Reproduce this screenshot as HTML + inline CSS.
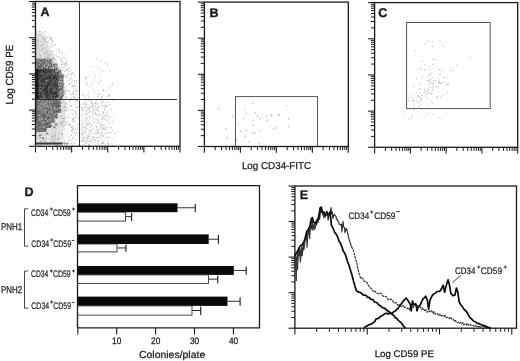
<!DOCTYPE html>
<html><head><meta charset="utf-8"><style>
html,body{margin:0;padding:0;background:#fff;width:520px;height:361px;overflow:hidden}
svg{display:block;will-change:transform;filter:blur(0.3px)}
text{font-family:"Liberation Sans",sans-serif;text-rendering:geometricPrecision}
</style></head><body>
<svg width="520" height="361" viewBox="0 0 520 361" font-family="Liberation Sans, sans-serif">
<rect width="520" height="361" fill="#fff"/>
<polygon points="36.1,31 40,32 44,35 46,40 50,48 55,58 60,70 63.5,80 65.5,95 66,105 65,120 62.5,135 61,145.5 36.1,145.5" fill="#e0e0e0"/>
<polygon points="36.1,58.5 52,58.5 52,63.5 57.5,63.5 57.5,69 61,69 61,74 63.5,74 63.5,96 62,99 36.1,99" fill="#7e7e7e"/>
<path d="M45.38 61.79h1.0v1.0h-1.0zM37.63 59.08h1.0v1.0h-1.0zM39.28 65.05h1.0v1.0h-1.0zM39.9 60.3h1.0v1.0h-1.0zM37.32 64.27h1.0v1.0h-1.0zM49.32 68.49h1.0v1.0h-1.0zM59.73 86.45h1.0v1.0h-1.0zM58.82 80.79h1.0v1.0h-1.0zM61.12 97.51h1.0v1.0h-1.0zM40.63 60.27h1.0v1.0h-1.0zM39.44 66.14h1.0v1.0h-1.0zM60.49 93.88h1.0v1.0h-1.0zM40.87 65.44h1.0v1.0h-1.0zM53.47 66.82h1.0v1.0h-1.0zM62.94 90.1h1.0v1.0h-1.0zM62.17 90.9h1.0v1.0h-1.0zM41.87 62.3h1.0v1.0h-1.0zM46.61 60.53h1.0v1.0h-1.0zM38.12 59.6h1.0v1.0h-1.0zM45.95 66.91h1.0v1.0h-1.0zM51.61 61.6h1.0v1.0h-1.0zM61.83 86.33h1.0v1.0h-1.0zM45.55 65.04h1.0v1.0h-1.0zM61.51 91.27h1.0v1.0h-1.0zM60.46 88.29h1.0v1.0h-1.0zM36.35 67.57h1.0v1.0h-1.0zM42.22 65.21h1.0v1.0h-1.0zM41.5 64.2h1.0v1.0h-1.0zM61.13 76.58h1.0v1.0h-1.0zM63.25 90.2h1.0v1.0h-1.0zM58.38 76.51h1.0v1.0h-1.0zM39.37 61.8h1.0v1.0h-1.0zM63.1 91.29h1.0v1.0h-1.0zM43.18 68.18h1.0v1.0h-1.0zM48.92 63.24h1.0v1.0h-1.0zM57.62 80.04h1.0v1.0h-1.0zM43.08 67.46h1.0v1.0h-1.0zM59.05 77.85h1.0v1.0h-1.0zM63.33 74.95h1.0v1.0h-1.0zM37.71 65.83h1.0v1.0h-1.0zM59.41 95.37h1.0v1.0h-1.0zM59.55 98.73h1.0v1.0h-1.0zM38.7 66.95h1.0v1.0h-1.0zM43.75 60.83h1.0v1.0h-1.0zM43.67 60.82h1.0v1.0h-1.0zM51.57 65.73h1.0v1.0h-1.0zM38.84 62.27h1.0v1.0h-1.0zM37.04 64.08h1.0v1.0h-1.0zM45.02 68.73h1.0v1.0h-1.0zM50.75 63.01h1.0v1.0h-1.0zM57.86 79.8h1.0v1.0h-1.0zM60.48 74.45h1.0v1.0h-1.0zM37.16 60.84h1.0v1.0h-1.0zM43.3 62.35h1.0v1.0h-1.0zM62.05 85.17h1.0v1.0h-1.0zM44.1 65.9h1.0v1.0h-1.0zM44.78 65.48h1.0v1.0h-1.0zM58.39 84.59h1.0v1.0h-1.0zM57.59 83.94h1.0v1.0h-1.0zM62.7 83.23h1.0v1.0h-1.0zM57.88 91.55h1.0v1.0h-1.0zM60.04 92.19h1.0v1.0h-1.0zM59.83 88.67h1.0v1.0h-1.0zM37.77 66.95h1.0v1.0h-1.0zM58.06 98.91h1.0v1.0h-1.0zM58.89 82.76h1.0v1.0h-1.0zM40 66.43h1.0v1.0h-1.0zM37.35 67.09h1.0v1.0h-1.0zM56.11 68.09h1.0v1.0h-1.0zM49.72 60.33h1.0v1.0h-1.0zM60.51 98.56h1.0v1.0h-1.0zM49.21 67.09h1.0v1.0h-1.0zM60.52 77.89h1.0v1.0h-1.0zM62.55 86.65h1.0v1.0h-1.0zM49.25 68.59h1.0v1.0h-1.0zM43.1 66.96h1.0v1.0h-1.0zM51.08 63.54h1.0v1.0h-1.0zM62.47 91.54h1.0v1.0h-1.0zM57.84 75.29h1.0v1.0h-1.0zM58.46 84h1.0v1.0h-1.0zM55.51 68.54h1.0v1.0h-1.0zM40.6 62.27h1.0v1.0h-1.0zM50.66 64.9h1.0v1.0h-1.0zM49.22 61.28h1.0v1.0h-1.0zM41.37 59.08h1.0v1.0h-1.0zM45.93 59.1h1.0v1.0h-1.0zM42.79 66.63h1.0v1.0h-1.0zM58.36 73.58h1.0v1.0h-1.0zM37.39 67.49h1.0v1.0h-1.0zM43.77 66.18h1.0v1.0h-1.0zM62.82 76.3h1.0v1.0h-1.0zM60.68 93.5h1.0v1.0h-1.0zM38.83 61.95h1.0v1.0h-1.0zM55.19 68.67h1.0v1.0h-1.0zM39.4 66.33h1.0v1.0h-1.0zM47.34 65.06h1.0v1.0h-1.0zM62.46 76.39h1.0v1.0h-1.0zM42.66 66.12h1.0v1.0h-1.0zM48.31 66.58h1.0v1.0h-1.0zM56.32 63.91h1.0v1.0h-1.0zM59.81 88.26h1.0v1.0h-1.0zM50.9 64.23h1.0v1.0h-1.0zM50.62 63.43h1.0v1.0h-1.0zM41.99 98.84h1.0v1.0h-1.0zM62.89 94.76h1.0v1.0h-1.0zM60.57 74.46h1.0v1.0h-1.0zM58.29 95.43h1.0v1.0h-1.0zM45.84 67.25h1.0v1.0h-1.0zM45.15 67.4h1.0v1.0h-1.0zM63.45 83.53h1.0v1.0h-1.0zM47.29 66.3h1.0v1.0h-1.0zM59.98 88.23h1.0v1.0h-1.0zM60.59 89.78h1.0v1.0h-1.0zM43.58 58.78h1.0v1.0h-1.0zM58.31 93.11h1.0v1.0h-1.0zM43.05 66.04h1.0v1.0h-1.0zM50.97 65.41h1.0v1.0h-1.0zM60.16 84.4h1.0v1.0h-1.0zM61.14 96.15h1.0v1.0h-1.0zM36.73 68.22h1.0v1.0h-1.0zM39.14 63.53h1.0v1.0h-1.0zM61.92 75.21h1.0v1.0h-1.0zM39.81 64.18h1.0v1.0h-1.0zM55.38 64.15h1.0v1.0h-1.0zM45.02 64.15h1.0v1.0h-1.0zM59.76 79.66h1.0v1.0h-1.0zM37.43 59.56h1.0v1.0h-1.0zM48 67.75h1.0v1.0h-1.0zM46.6 63.87h1.0v1.0h-1.0zM49.56 62.31h1.0v1.0h-1.0zM39.95 67.75h1.0v1.0h-1.0zM60.05 98.51h1.0v1.0h-1.0zM41.52 60.7h1.0v1.0h-1.0zM63.08 82.92h1.0v1.0h-1.0zM39.25 66.12h1.0v1.0h-1.0zM57.61 95.38h1.0v1.0h-1.0zM54.62 68.78h1.0v1.0h-1.0zM50.43 65.59h1.0v1.0h-1.0zM58.79 90.1h1.0v1.0h-1.0zM49.48 63.08h1.0v1.0h-1.0zM49.93 59.82h1.0v1.0h-1.0zM57.87 89.99h1.0v1.0h-1.0zM57.83 91.67h1.0v1.0h-1.0zM59.55 96.88h1.0v1.0h-1.0zM41.85 66.83h1.0v1.0h-1.0zM36.62 63.19h1.0v1.0h-1.0zM62.13 79.98h1.0v1.0h-1.0zM48.99 62.95h1.0v1.0h-1.0zM36.53 61.72h1.0v1.0h-1.0zM39.53 65.23h1.0v1.0h-1.0zM53.47 64.19h1.0v1.0h-1.0zM42.93 61.72h1.0v1.0h-1.0zM62.07 90.2h1.0v1.0h-1.0zM47.76 66.89h1.0v1.0h-1.0zM47.88 65.7h1.0v1.0h-1.0zM44.94 68.51h1.0v1.0h-1.0zM59.38 87.19h1.0v1.0h-1.0zM58.23 75.94h1.0v1.0h-1.0zM58.12 75.36h1.0v1.0h-1.0zM42.39 59.74h1.0v1.0h-1.0z" fill="#555" opacity="1.0"/>
<path d="M57.21 66.97h1.0v1.0h-1.0zM59.55 78.55h1.0v1.0h-1.0zM43.44 65.62h1.0v1.0h-1.0zM58.19 97.51h1.0v1.0h-1.0zM58.26 69.71h1.0v1.0h-1.0zM52.9 68.85h1.0v1.0h-1.0zM46.02 61.38h1.0v1.0h-1.0zM60.5 95.11h1.0v1.0h-1.0zM38.77 64.26h1.0v1.0h-1.0zM61.36 91.54h1.0v1.0h-1.0zM54.76 67.93h1.0v1.0h-1.0zM38.55 59.4h1.0v1.0h-1.0zM36.14 66.55h1.0v1.0h-1.0zM61.47 82.82h1.0v1.0h-1.0zM51.91 64.75h1.0v1.0h-1.0zM44.15 64.66h1.0v1.0h-1.0zM41.79 66.84h1.0v1.0h-1.0zM62.99 77.55h1.0v1.0h-1.0zM58.47 84.08h1.0v1.0h-1.0zM59.09 81.06h1.0v1.0h-1.0zM41.34 68.57h1.0v1.0h-1.0zM40.22 62.02h1.0v1.0h-1.0zM51.43 62.24h1.0v1.0h-1.0zM45.51 63.52h1.0v1.0h-1.0zM57.87 74.57h1.0v1.0h-1.0zM38.76 64.29h1.0v1.0h-1.0zM63.19 74.35h1.0v1.0h-1.0zM48.35 65.29h1.0v1.0h-1.0zM57.53 94.6h1.0v1.0h-1.0zM59.11 86.5h1.0v1.0h-1.0zM61.5 85.58h1.0v1.0h-1.0zM59.36 87.09h1.0v1.0h-1.0zM54.7 66.25h1.0v1.0h-1.0zM59.23 72.49h1.0v1.0h-1.0zM50.44 98.86h1.0v1.0h-1.0zM60.78 78.48h1.0v1.0h-1.0zM46.24 66.93h1.0v1.0h-1.0zM47.45 64.54h1.0v1.0h-1.0zM60.19 83.54h1.0v1.0h-1.0zM60.47 91.73h1.0v1.0h-1.0zM49.78 68.25h1.0v1.0h-1.0zM60.93 70.96h1.0v1.0h-1.0zM46.97 66.41h1.0v1.0h-1.0zM48.5 63.37h1.0v1.0h-1.0zM44.08 66.02h1.0v1.0h-1.0zM55.61 71.31h1.0v1.0h-1.0zM63.13 90.28h1.0v1.0h-1.0zM55.51 66.25h1.0v1.0h-1.0zM38.6 61.42h1.0v1.0h-1.0zM46.07 61.87h1.0v1.0h-1.0zM63.07 90.63h1.0v1.0h-1.0zM59.54 92.75h1.0v1.0h-1.0zM52.43 66.9h1.0v1.0h-1.0zM42.64 61.27h1.0v1.0h-1.0zM49.75 61.5h1.0v1.0h-1.0zM60.75 73.17h1.0v1.0h-1.0zM50.86 67.23h1.0v1.0h-1.0zM50.95 98.87h1.0v1.0h-1.0zM62.51 79.54h1.0v1.0h-1.0zM37.02 68.52h1.0v1.0h-1.0zM63.25 82.53h1.0v1.0h-1.0zM56.27 64.56h1.0v1.0h-1.0zM59.12 96.13h1.0v1.0h-1.0zM55.5 71.6h1.0v1.0h-1.0zM60.59 90.39h1.0v1.0h-1.0zM52.64 66.61h1.0v1.0h-1.0zM36.7 60.35h1.0v1.0h-1.0zM60.22 80.89h1.0v1.0h-1.0zM48.08 59.59h1.0v1.0h-1.0zM55.16 64.55h1.0v1.0h-1.0zM57.44 65.9h1.0v1.0h-1.0zM52.79 68.16h1.0v1.0h-1.0zM37.35 98.83h1.0v1.0h-1.0zM53.83 68.89h1.0v1.0h-1.0zM60.39 94.93h1.0v1.0h-1.0zM60.26 94.02h1.0v1.0h-1.0zM52.94 67.32h1.0v1.0h-1.0zM61.46 91.32h1.0v1.0h-1.0zM46.08 58.83h1.0v1.0h-1.0zM49.69 64.3h1.0v1.0h-1.0z" fill="#c8c8c8" opacity="1.0"/>
<polygon points="36.1,69 55,69 55,72 57.5,72 57.5,96 55,98.6 36.1,98.6" fill="#464646"/>
<polygon points="36.1,99.6 60.5,99.6 60.5,113 57.5,113 57.5,118 54.5,118 54.5,123 51,123 51,128 46,128 46,132 36.1,132" fill="#787878"/>
<path d="M70.73 77.92h0.9v0.9h-0.9zM74.89 85.75h0.9v0.9h-0.9zM62.08 63.46h0.9v0.9h-0.9zM74.04 81.28h0.9v0.9h-0.9zM60.74 52.96h0.9v0.9h-0.9zM70.17 73.67h0.9v0.9h-0.9zM77.62 116.67h0.9v0.9h-0.9zM71.94 141.4h0.9v0.9h-0.9zM62.11 70.07h0.9v0.9h-0.9zM64.01 140.51h0.9v0.9h-0.9zM65.3 69.53h0.9v0.9h-0.9zM75.67 133.98h0.9v0.9h-0.9zM70.49 109.41h0.9v0.9h-0.9zM64.28 144.16h0.9v0.9h-0.9zM69.1 138.36h0.9v0.9h-0.9zM65.62 57.65h0.9v0.9h-0.9zM46.94 35.64h0.9v0.9h-0.9zM46.11 38.04h0.9v0.9h-0.9zM74.07 131.98h0.9v0.9h-0.9zM72.98 99.17h0.9v0.9h-0.9zM72.13 80.17h0.9v0.9h-0.9zM67.26 89.73h0.9v0.9h-0.9zM56.75 56.07h0.9v0.9h-0.9zM72.53 86.35h0.9v0.9h-0.9zM39.03 31.02h0.9v0.9h-0.9zM71.62 93.45h0.9v0.9h-0.9zM68.11 71.42h0.9v0.9h-0.9zM72.96 128.93h0.9v0.9h-0.9zM76 80.05h0.9v0.9h-0.9zM51.84 40.6h0.9v0.9h-0.9zM71.84 129.05h0.9v0.9h-0.9zM43.62 32.94h0.9v0.9h-0.9zM74.19 110.35h0.9v0.9h-0.9zM47.94 35.38h0.9v0.9h-0.9zM72.26 138.14h0.9v0.9h-0.9zM72.87 86.23h0.9v0.9h-0.9zM71.29 135.01h0.9v0.9h-0.9zM71.77 126.8h0.9v0.9h-0.9zM63.65 65.92h0.9v0.9h-0.9zM77.19 99.78h0.9v0.9h-0.9zM71.51 131.43h0.9v0.9h-0.9zM72.87 96.85h0.9v0.9h-0.9zM74.27 75.44h0.9v0.9h-0.9zM72.04 85.24h0.9v0.9h-0.9zM68.38 113.65h0.9v0.9h-0.9zM69.31 79.88h0.9v0.9h-0.9zM70.43 109.28h0.9v0.9h-0.9zM69.57 93.82h0.9v0.9h-0.9zM60.95 72.66h0.9v0.9h-0.9zM70.37 129.97h0.9v0.9h-0.9zM62.53 67.82h0.9v0.9h-0.9zM70.52 127.05h0.9v0.9h-0.9zM73.03 125.61h0.9v0.9h-0.9zM76.45 117.46h0.9v0.9h-0.9zM65.99 69.08h0.9v0.9h-0.9zM65.6 86.18h0.9v0.9h-0.9zM75.31 106.93h0.9v0.9h-0.9zM72.01 144.77h0.9v0.9h-0.9zM72.98 93.86h0.9v0.9h-0.9zM61.06 71.8h0.9v0.9h-0.9zM67.34 64.58h0.9v0.9h-0.9zM61.41 63.96h0.9v0.9h-0.9zM76.92 127.69h0.9v0.9h-0.9zM62.31 140.96h0.9v0.9h-0.9zM51.45 43.51h0.9v0.9h-0.9zM65.06 63.02h0.9v0.9h-0.9zM57.96 48.64h0.9v0.9h-0.9zM75.53 94.03h0.9v0.9h-0.9zM51.88 51.03h0.9v0.9h-0.9zM60.76 59.16h0.9v0.9h-0.9zM75.95 117.65h0.9v0.9h-0.9zM74.78 128.52h0.9v0.9h-0.9zM65.03 64.28h0.9v0.9h-0.9zM68.17 109.79h0.9v0.9h-0.9zM72.86 91.84h0.9v0.9h-0.9zM72.63 117.84h0.9v0.9h-0.9zM73.51 96.53h0.9v0.9h-0.9zM66.41 69.6h0.9v0.9h-0.9zM68.77 124.42h0.9v0.9h-0.9zM76.89 107.14h0.9v0.9h-0.9zM68.37 124.58h0.9v0.9h-0.9zM63.45 77.05h0.9v0.9h-0.9zM66.77 121.52h0.9v0.9h-0.9zM59.7 51.46h0.9v0.9h-0.9zM53.82 45.38h0.9v0.9h-0.9zM49.32 37.21h0.9v0.9h-0.9zM66.96 104.46h0.9v0.9h-0.9zM69.59 124.73h0.9v0.9h-0.9zM51.54 46.01h0.9v0.9h-0.9zM51.65 41.18h0.9v0.9h-0.9zM54.82 43.92h0.9v0.9h-0.9zM76.42 101.21h0.9v0.9h-0.9zM63.43 137.84h0.9v0.9h-0.9zM46.45 37.47h0.9v0.9h-0.9zM73.13 136.76h0.9v0.9h-0.9zM72.45 113.53h0.9v0.9h-0.9zM50.04 43.25h0.9v0.9h-0.9zM71.98 108.9h0.9v0.9h-0.9zM75.78 139.06h0.9v0.9h-0.9zM55.06 44.04h0.9v0.9h-0.9zM72.92 127.77h0.9v0.9h-0.9zM70.52 73.61h0.9v0.9h-0.9zM65.14 124.09h0.9v0.9h-0.9zM60.57 63.86h0.9v0.9h-0.9zM44.2 30.72h0.9v0.9h-0.9zM74.01 142.77h0.9v0.9h-0.9zM65.6 96.75h0.9v0.9h-0.9zM64.31 57.71h0.9v0.9h-0.9zM65.7 76.37h0.9v0.9h-0.9zM60.63 69.94h0.9v0.9h-0.9zM75.1 89.06h0.9v0.9h-0.9zM59.12 51.69h0.9v0.9h-0.9zM52.94 41.58h0.9v0.9h-0.9zM66.98 73.67h0.9v0.9h-0.9zM75.04 98.27h0.9v0.9h-0.9zM74.31 90.93h0.9v0.9h-0.9zM76.33 129.72h0.9v0.9h-0.9zM65.78 124.03h0.9v0.9h-0.9zM68.31 139.45h0.9v0.9h-0.9zM72.8 93.25h0.9v0.9h-0.9zM74.46 87.84h0.9v0.9h-0.9zM66.18 121.83h0.9v0.9h-0.9zM50.74 39.02h0.9v0.9h-0.9zM65.74 69.46h0.9v0.9h-0.9zM74.35 96.97h0.9v0.9h-0.9zM74.32 117.56h0.9v0.9h-0.9zM70.89 129.97h0.9v0.9h-0.9zM77.27 105.85h0.9v0.9h-0.9zM68.41 84.12h0.9v0.9h-0.9zM63.77 64.15h0.9v0.9h-0.9zM51.04 37.09h0.9v0.9h-0.9zM60.81 58.1h0.9v0.9h-0.9zM67.84 89.46h0.9v0.9h-0.9zM76.49 93.5h0.9v0.9h-0.9zM61.33 144.42h0.9v0.9h-0.9zM53.28 45.24h0.9v0.9h-0.9zM68.16 141.36h0.9v0.9h-0.9zM71.52 130.32h0.9v0.9h-0.9zM50.68 37.22h0.9v0.9h-0.9zM74.46 100.63h0.9v0.9h-0.9zM64.38 71.07h0.9v0.9h-0.9zM65.71 62.56h0.9v0.9h-0.9zM62.1 52.38h0.9v0.9h-0.9zM76.68 91.08h0.9v0.9h-0.9zM71.72 73.33h0.9v0.9h-0.9zM62.27 61.69h0.9v0.9h-0.9zM67.16 116.18h0.9v0.9h-0.9zM69.88 143.15h0.9v0.9h-0.9zM55.67 55.06h0.9v0.9h-0.9zM69.95 65.67h0.9v0.9h-0.9zM68.33 136.1h0.9v0.9h-0.9zM63.81 63.37h0.9v0.9h-0.9zM71.12 77.97h0.9v0.9h-0.9zM77.55 99.02h0.9v0.9h-0.9zM69.28 100.98h0.9v0.9h-0.9zM68.94 123.68h0.9v0.9h-0.9zM73.95 145.35h0.9v0.9h-0.9zM67.38 131.13h0.9v0.9h-0.9zM57.96 49.19h0.9v0.9h-0.9zM74.8 112.16h0.9v0.9h-0.9zM47.65 42.33h0.9v0.9h-0.9zM66.12 102.29h0.9v0.9h-0.9zM66.22 143.78h0.9v0.9h-0.9zM74.4 110.44h0.9v0.9h-0.9zM62.55 136.71h0.9v0.9h-0.9zM52.28 50.34h0.9v0.9h-0.9zM44.33 34.64h0.9v0.9h-0.9zM73.02 118.78h0.9v0.9h-0.9zM66.39 60.87h0.9v0.9h-0.9zM73.48 84.28h0.9v0.9h-0.9zM61.86 145.34h0.9v0.9h-0.9zM68.58 67.73h0.9v0.9h-0.9zM67.19 69.58h0.9v0.9h-0.9zM65.64 60.59h0.9v0.9h-0.9zM45.34 37.9h0.9v0.9h-0.9zM72.32 132.65h0.9v0.9h-0.9zM71.24 85.69h0.9v0.9h-0.9zM66.43 76.61h0.9v0.9h-0.9zM65.77 66.23h0.9v0.9h-0.9zM58.67 49.94h0.9v0.9h-0.9zM63.81 128.22h0.9v0.9h-0.9zM70.76 97.85h0.9v0.9h-0.9zM69.14 67.8h0.9v0.9h-0.9zM75.61 115.39h0.9v0.9h-0.9zM72.86 72.28h0.9v0.9h-0.9zM65.75 89.79h0.9v0.9h-0.9zM69.73 117h0.9v0.9h-0.9zM40.03 31.12h0.9v0.9h-0.9zM69.02 91.12h0.9v0.9h-0.9zM67.14 80.83h0.9v0.9h-0.9zM73.72 90.02h0.9v0.9h-0.9zM74.07 121.05h0.9v0.9h-0.9zM59.39 67.1h0.9v0.9h-0.9zM61.48 66.08h0.9v0.9h-0.9zM76.41 90.07h0.9v0.9h-0.9zM60.64 60.77h0.9v0.9h-0.9zM71.21 94.6h0.9v0.9h-0.9zM76.55 90.69h0.9v0.9h-0.9zM71.13 82.78h0.9v0.9h-0.9zM70.4 139.81h0.9v0.9h-0.9zM61.4 60.16h0.9v0.9h-0.9zM71.07 143.49h0.9v0.9h-0.9zM67.91 74.16h0.9v0.9h-0.9zM68.89 82.57h0.9v0.9h-0.9zM62.15 141.89h0.9v0.9h-0.9zM74.37 80.51h0.9v0.9h-0.9zM42.13 31.85h0.9v0.9h-0.9zM44.55 36.02h0.9v0.9h-0.9zM58.56 56.79h0.9v0.9h-0.9zM71.57 78.19h0.9v0.9h-0.9zM50.82 37.69h0.9v0.9h-0.9zM70.18 134.42h0.9v0.9h-0.9zM68.94 100.19h0.9v0.9h-0.9zM73.13 119.11h0.9v0.9h-0.9zM51.04 40.44h0.9v0.9h-0.9zM72.37 138.08h0.9v0.9h-0.9zM75.76 113.87h0.9v0.9h-0.9zM72.54 121.07h0.9v0.9h-0.9zM61.77 74.85h0.9v0.9h-0.9zM72.22 118.84h0.9v0.9h-0.9zM55.88 49.82h0.9v0.9h-0.9zM66 109.51h0.9v0.9h-0.9zM70.82 106.04h0.9v0.9h-0.9zM77.41 124.05h0.9v0.9h-0.9zM64.54 125.37h0.9v0.9h-0.9zM72.72 119.91h0.9v0.9h-0.9zM71.65 72.75h0.9v0.9h-0.9zM50.43 46.92h0.9v0.9h-0.9zM63.06 56.81h0.9v0.9h-0.9zM66.7 75.7h0.9v0.9h-0.9zM64.91 121.7h0.9v0.9h-0.9zM73.87 84.75h0.9v0.9h-0.9zM75.27 103.95h0.9v0.9h-0.9zM63.62 67.36h0.9v0.9h-0.9zM75.87 82.76h0.9v0.9h-0.9zM65.92 90.23h0.9v0.9h-0.9zM75.15 111.84h0.9v0.9h-0.9zM49.97 37.26h0.9v0.9h-0.9zM77.91 132.32h0.9v0.9h-0.9zM64.05 55.39h0.9v0.9h-0.9zM71.32 105.24h0.9v0.9h-0.9zM67.08 107.05h0.9v0.9h-0.9zM47.85 40.4h0.9v0.9h-0.9zM49.51 39.16h0.9v0.9h-0.9zM69.19 79.25h0.9v0.9h-0.9zM59.06 56.34h0.9v0.9h-0.9zM72.29 91.38h0.9v0.9h-0.9zM69.04 105.44h0.9v0.9h-0.9zM64.19 141.88h0.9v0.9h-0.9zM69.97 69.71h0.9v0.9h-0.9zM77.35 113.55h0.9v0.9h-0.9zM65.29 133.59h0.9v0.9h-0.9zM65.22 92.81h0.9v0.9h-0.9zM70.59 125.64h0.9v0.9h-0.9zM69.06 83.07h0.9v0.9h-0.9zM75.48 133.25h0.9v0.9h-0.9zM68.56 123.44h0.9v0.9h-0.9zM64.37 130.71h0.9v0.9h-0.9zM66.82 97.16h0.9v0.9h-0.9zM45.46 31.82h0.9v0.9h-0.9z" fill="#acacac" opacity="1.0"/>
<path d="M41.67 54.66h1.0v1.0h-1.0zM60.19 121.73h1.0v1.0h-1.0zM40.42 48.28h1.0v1.0h-1.0zM63.54 111.29h1.0v1.0h-1.0zM53.43 55.61h1.0v1.0h-1.0zM44.25 53.47h1.0v1.0h-1.0zM38.29 45.91h1.0v1.0h-1.0zM37.47 42.07h1.0v1.0h-1.0zM51.31 133.27h1.0v1.0h-1.0zM40.05 33.44h1.0v1.0h-1.0zM56.47 144.81h1.0v1.0h-1.0zM56.69 123.56h1.0v1.0h-1.0zM41.21 33.72h1.0v1.0h-1.0zM44.81 51.74h1.0v1.0h-1.0zM36.44 134.52h1.0v1.0h-1.0zM44.65 50.67h1.0v1.0h-1.0zM41.12 45.19h1.0v1.0h-1.0zM63.82 109.08h1.0v1.0h-1.0zM65.44 109.93h1.0v1.0h-1.0zM41.81 134.54h1.0v1.0h-1.0zM46.12 144.34h1.0v1.0h-1.0zM63.71 113.44h1.0v1.0h-1.0zM37.2 31.82h1.0v1.0h-1.0zM46.2 137.27h1.0v1.0h-1.0zM60.24 123.49h1.0v1.0h-1.0zM61.96 120.74h1.0v1.0h-1.0zM51.86 58.14h1.0v1.0h-1.0zM38.84 34.32h1.0v1.0h-1.0zM54.67 130.65h1.0v1.0h-1.0zM43.5 138.79h1.0v1.0h-1.0zM46.74 57.87h1.0v1.0h-1.0zM36.43 49.08h1.0v1.0h-1.0zM59.46 138.18h1.0v1.0h-1.0zM53.63 135.14h1.0v1.0h-1.0zM39.49 46.76h1.0v1.0h-1.0zM48.29 134.22h1.0v1.0h-1.0zM36.11 52.78h1.0v1.0h-1.0zM46.56 52.4h1.0v1.0h-1.0zM44.81 52.7h1.0v1.0h-1.0zM61.81 102.67h1.0v1.0h-1.0zM62.1 107.56h1.0v1.0h-1.0zM64.84 93.96h1.0v1.0h-1.0zM64.52 91.77h1.0v1.0h-1.0zM41.29 141.35h1.0v1.0h-1.0zM44.13 47.6h1.0v1.0h-1.0zM39.67 34.84h1.0v1.0h-1.0zM38.68 48.02h1.0v1.0h-1.0zM46.17 41.5h1.0v1.0h-1.0zM39.2 53.43h1.0v1.0h-1.0zM55.66 60.05h1.0v1.0h-1.0zM62.42 102.04h1.0v1.0h-1.0zM61.46 138.37h1.0v1.0h-1.0zM58.27 139.49h1.0v1.0h-1.0zM57.4 144.97h1.0v1.0h-1.0zM45.57 141.11h1.0v1.0h-1.0zM60.5 109.68h1.0v1.0h-1.0zM41.63 50.3h1.0v1.0h-1.0zM40.86 140.99h1.0v1.0h-1.0zM42.14 37.27h1.0v1.0h-1.0zM45.93 41.11h1.0v1.0h-1.0zM53.7 131.94h1.0v1.0h-1.0zM37.8 135.26h1.0v1.0h-1.0zM48.39 56.41h1.0v1.0h-1.0zM40.69 50.71h1.0v1.0h-1.0zM64.79 93.87h1.0v1.0h-1.0zM38.88 133.09h1.0v1.0h-1.0zM65.67 109.35h1.0v1.0h-1.0zM53.71 141.16h1.0v1.0h-1.0zM65.02 116.63h1.0v1.0h-1.0zM41.18 48.04h1.0v1.0h-1.0zM45.06 53.52h1.0v1.0h-1.0zM37.09 37.14h1.0v1.0h-1.0zM51.95 141.27h1.0v1.0h-1.0zM64.07 99.96h1.0v1.0h-1.0zM48.89 52.23h1.0v1.0h-1.0zM40.58 137.76h1.0v1.0h-1.0zM63.27 107.78h1.0v1.0h-1.0zM37.78 39.39h1.0v1.0h-1.0zM41.65 44.28h1.0v1.0h-1.0zM45.33 56.64h1.0v1.0h-1.0zM63.97 107.09h1.0v1.0h-1.0zM42.5 48.52h1.0v1.0h-1.0zM39.68 141.4h1.0v1.0h-1.0zM37.78 56.29h1.0v1.0h-1.0zM54.45 62.59h1.0v1.0h-1.0zM40.99 50.6h1.0v1.0h-1.0zM56.54 140.51h1.0v1.0h-1.0zM44.12 140.74h1.0v1.0h-1.0zM50.58 51.24h1.0v1.0h-1.0zM54.12 123.53h1.0v1.0h-1.0zM62.49 133.32h1.0v1.0h-1.0zM45.61 134.6h1.0v1.0h-1.0zM46.37 135.87h1.0v1.0h-1.0zM65.62 102.21h1.0v1.0h-1.0zM49.36 130.12h1.0v1.0h-1.0zM61.64 124.48h1.0v1.0h-1.0zM54.03 130.94h1.0v1.0h-1.0zM41.06 135.21h1.0v1.0h-1.0zM58.8 123.37h1.0v1.0h-1.0zM44.48 58.02h1.0v1.0h-1.0zM41.87 140.54h1.0v1.0h-1.0zM51.6 136.42h1.0v1.0h-1.0zM57.86 133.23h1.0v1.0h-1.0zM58.23 137.51h1.0v1.0h-1.0zM63.58 121.23h1.0v1.0h-1.0zM47.03 54.78h1.0v1.0h-1.0zM46.05 52.21h1.0v1.0h-1.0zM62.33 133.92h1.0v1.0h-1.0zM46.41 45.06h1.0v1.0h-1.0zM42.71 47.53h1.0v1.0h-1.0zM39.28 44.33h1.0v1.0h-1.0zM55.07 142.6h1.0v1.0h-1.0zM57.14 139.05h1.0v1.0h-1.0zM51.27 99.37h1.0v1.0h-1.0zM54.75 57.58h1.0v1.0h-1.0zM61.76 105.33h1.0v1.0h-1.0zM50.63 139.05h1.0v1.0h-1.0zM51.67 132.79h1.0v1.0h-1.0zM51.65 135.03h1.0v1.0h-1.0zM36.47 44.34h1.0v1.0h-1.0zM42.04 48.73h1.0v1.0h-1.0zM38.06 53.24h1.0v1.0h-1.0zM60.01 136.17h1.0v1.0h-1.0zM39.49 136.56h1.0v1.0h-1.0zM40.5 40.42h1.0v1.0h-1.0zM51.55 143.36h1.0v1.0h-1.0zM46.77 49.31h1.0v1.0h-1.0zM43.51 39.18h1.0v1.0h-1.0zM55.06 119.66h1.0v1.0h-1.0zM41.84 42.06h1.0v1.0h-1.0zM60.86 111.78h1.0v1.0h-1.0zM53.69 140.95h1.0v1.0h-1.0zM52.26 53.89h1.0v1.0h-1.0zM61.01 134.31h1.0v1.0h-1.0zM51.99 135.91h1.0v1.0h-1.0zM55.8 128.81h1.0v1.0h-1.0zM53.36 139.7h1.0v1.0h-1.0zM50.77 137.53h1.0v1.0h-1.0zM43.75 37.22h1.0v1.0h-1.0zM63.57 87.15h1.0v1.0h-1.0zM39.88 135.13h1.0v1.0h-1.0zM56.12 123.69h1.0v1.0h-1.0zM42.96 37.27h1.0v1.0h-1.0zM60.15 116h1.0v1.0h-1.0zM36.78 45.78h1.0v1.0h-1.0zM41.02 55.81h1.0v1.0h-1.0zM63.51 90.94h1.0v1.0h-1.0zM51.62 139.62h1.0v1.0h-1.0zM63.71 88.45h1.0v1.0h-1.0zM48.86 142.12h1.0v1.0h-1.0zM46.37 142.58h1.0v1.0h-1.0zM54 133.72h1.0v1.0h-1.0zM61.73 123.87h1.0v1.0h-1.0zM40.02 137.44h1.0v1.0h-1.0zM47.4 130.94h1.0v1.0h-1.0zM51.48 133.41h1.0v1.0h-1.0zM42.54 38.82h1.0v1.0h-1.0zM61.69 120.91h1.0v1.0h-1.0zM52.74 62.28h1.0v1.0h-1.0zM54.35 58.87h1.0v1.0h-1.0zM58.29 138.02h1.0v1.0h-1.0zM37.52 35.43h1.0v1.0h-1.0zM50.41 53.54h1.0v1.0h-1.0zM61.23 143.01h1.0v1.0h-1.0zM61.44 111.1h1.0v1.0h-1.0zM47.82 143.25h1.0v1.0h-1.0zM51.24 130.21h1.0v1.0h-1.0zM46.58 136.63h1.0v1.0h-1.0zM58.23 67.27h1.0v1.0h-1.0zM64.63 105.2h1.0v1.0h-1.0zM63.77 107.38h1.0v1.0h-1.0zM49.48 142.75h1.0v1.0h-1.0zM43.66 39.88h1.0v1.0h-1.0zM48 136.18h1.0v1.0h-1.0zM40.81 133.75h1.0v1.0h-1.0zM40.94 46.81h1.0v1.0h-1.0zM51.66 133.69h1.0v1.0h-1.0zM40.66 144.29h1.0v1.0h-1.0zM56.82 144.36h1.0v1.0h-1.0zM55.1 145.12h1.0v1.0h-1.0zM52.05 128.51h1.0v1.0h-1.0zM64.98 103.76h1.0v1.0h-1.0zM55.85 124.82h1.0v1.0h-1.0zM36.78 47.68h1.0v1.0h-1.0zM62.94 118.27h1.0v1.0h-1.0zM55.19 124.6h1.0v1.0h-1.0zM60.72 114.89h1.0v1.0h-1.0zM36.2 132.17h1.0v1.0h-1.0zM55.08 124.6h1.0v1.0h-1.0zM42.61 56.87h1.0v1.0h-1.0zM47.9 135.93h1.0v1.0h-1.0zM39.57 136.56h1.0v1.0h-1.0zM44.25 140.5h1.0v1.0h-1.0zM45.47 47.38h1.0v1.0h-1.0zM58.05 119.16h1.0v1.0h-1.0zM39.7 54.77h1.0v1.0h-1.0zM57.91 125.44h1.0v1.0h-1.0zM36.24 137.17h1.0v1.0h-1.0zM60.99 101.68h1.0v1.0h-1.0zM53.82 137.32h1.0v1.0h-1.0zM52.96 59.37h1.0v1.0h-1.0zM38.73 139.44h1.0v1.0h-1.0zM51.92 130.96h1.0v1.0h-1.0zM63.4 99.64h1.0v1.0h-1.0zM41.33 57.83h1.0v1.0h-1.0zM64.73 102.88h1.0v1.0h-1.0zM59.79 121.82h1.0v1.0h-1.0zM38.53 137.97h1.0v1.0h-1.0zM55.27 135.37h1.0v1.0h-1.0zM36.2 39.04h1.0v1.0h-1.0zM39.53 44.5h1.0v1.0h-1.0zM46.71 50.36h1.0v1.0h-1.0zM62.1 128.77h1.0v1.0h-1.0zM43.31 52.65h1.0v1.0h-1.0zM64.4 106.6h1.0v1.0h-1.0zM37.42 44.08h1.0v1.0h-1.0zM43.86 139.63h1.0v1.0h-1.0zM43.08 39.61h1.0v1.0h-1.0zM48.97 53.7h1.0v1.0h-1.0zM46.45 56.13h1.0v1.0h-1.0zM59.97 122.42h1.0v1.0h-1.0zM61 118.18h1.0v1.0h-1.0zM64.23 103.48h1.0v1.0h-1.0zM41.18 37.1h1.0v1.0h-1.0zM55.33 119.93h1.0v1.0h-1.0zM53.84 140.25h1.0v1.0h-1.0zM53.91 127.07h1.0v1.0h-1.0zM46.08 58.41h1.0v1.0h-1.0zM54.32 125.4h1.0v1.0h-1.0zM47.81 135.93h1.0v1.0h-1.0zM52.36 57.29h1.0v1.0h-1.0zM63.72 87.21h1.0v1.0h-1.0zM64.34 120.84h1.0v1.0h-1.0zM58.46 68.6h1.0v1.0h-1.0zM36.33 54.11h1.0v1.0h-1.0zM57.44 137.98h1.0v1.0h-1.0zM41.45 58.25h1.0v1.0h-1.0zM45.15 138.39h1.0v1.0h-1.0zM63.7 124.9h1.0v1.0h-1.0zM39.87 55.51h1.0v1.0h-1.0zM39.21 51.1h1.0v1.0h-1.0zM48.54 55.56h1.0v1.0h-1.0zM49.98 55.58h1.0v1.0h-1.0zM57.84 116.83h1.0v1.0h-1.0zM52.52 125.77h1.0v1.0h-1.0zM52.15 124.42h1.0v1.0h-1.0zM61.15 132.17h1.0v1.0h-1.0zM43.14 138.33h1.0v1.0h-1.0zM55.36 143.39h1.0v1.0h-1.0zM37.89 40.06h1.0v1.0h-1.0zM65.21 106.83h1.0v1.0h-1.0zM52.43 135.8h1.0v1.0h-1.0zM43.77 42.86h1.0v1.0h-1.0zM61 122.74h1.0v1.0h-1.0zM59.99 115.21h1.0v1.0h-1.0zM47.52 131.39h1.0v1.0h-1.0zM54.65 133.17h1.0v1.0h-1.0zM43.5 51.51h1.0v1.0h-1.0zM50.79 135.67h1.0v1.0h-1.0zM54.42 143.8h1.0v1.0h-1.0zM37.33 54.54h1.0v1.0h-1.0zM40.74 38.76h1.0v1.0h-1.0zM63.22 128.49h1.0v1.0h-1.0zM41.13 47.4h1.0v1.0h-1.0zM53.21 140.65h1.0v1.0h-1.0zM50.8 141.76h1.0v1.0h-1.0zM59.79 138.59h1.0v1.0h-1.0zM37.43 137.61h1.0v1.0h-1.0zM56.49 122.36h1.0v1.0h-1.0zM61.98 122.65h1.0v1.0h-1.0zM37.33 37.22h1.0v1.0h-1.0zM44.84 38.46h1.0v1.0h-1.0zM53.89 139.26h1.0v1.0h-1.0zM40.14 140.17h1.0v1.0h-1.0zM47.34 50.14h1.0v1.0h-1.0zM60.86 132.14h1.0v1.0h-1.0zM61.99 117.72h1.0v1.0h-1.0zM64.34 118.22h1.0v1.0h-1.0zM64.69 94.19h1.0v1.0h-1.0zM46.23 52.11h1.0v1.0h-1.0zM46.61 137.01h1.0v1.0h-1.0zM55.06 122.49h1.0v1.0h-1.0zM50.21 139.01h1.0v1.0h-1.0zM37.01 35.65h1.0v1.0h-1.0zM42.44 53.01h1.0v1.0h-1.0zM55.02 134.43h1.0v1.0h-1.0zM42.86 44.24h1.0v1.0h-1.0zM41.36 46.93h1.0v1.0h-1.0zM54.43 136.08h1.0v1.0h-1.0zM46.65 143.21h1.0v1.0h-1.0zM52.47 54.22h1.0v1.0h-1.0zM44.71 42.31h1.0v1.0h-1.0zM38.57 52.75h1.0v1.0h-1.0zM46.56 56.69h1.0v1.0h-1.0zM37.48 40.7h1.0v1.0h-1.0zM39.98 45.06h1.0v1.0h-1.0zM64.11 105.91h1.0v1.0h-1.0zM48.05 54.33h1.0v1.0h-1.0zM39.36 144.08h1.0v1.0h-1.0zM54.9 137.28h1.0v1.0h-1.0z" fill="#b4b4b4" opacity="1.0"/>
<path d="M63.51 102.79h1.0v1.0h-1.0zM43.25 50.46h1.0v1.0h-1.0zM41.45 40.75h1.0v1.0h-1.0zM50.18 137.6h1.0v1.0h-1.0zM40.73 52.18h1.0v1.0h-1.0zM52.03 63.26h1.0v1.0h-1.0zM56 122.32h1.0v1.0h-1.0zM58.34 113.94h1.0v1.0h-1.0zM47.68 131.51h1.0v1.0h-1.0zM39.27 44.58h1.0v1.0h-1.0zM39.5 135.9h1.0v1.0h-1.0zM40.08 37.48h1.0v1.0h-1.0zM65.43 100.74h1.0v1.0h-1.0zM59.14 117.06h1.0v1.0h-1.0zM47.86 141.03h1.0v1.0h-1.0zM57.16 120.58h1.0v1.0h-1.0zM51.69 131.08h1.0v1.0h-1.0zM60.54 121.41h1.0v1.0h-1.0zM59.05 140.99h1.0v1.0h-1.0zM37.52 35.52h1.0v1.0h-1.0zM49.82 52.9h1.0v1.0h-1.0zM50.93 142.91h1.0v1.0h-1.0zM50.54 134.48h1.0v1.0h-1.0zM50.15 58.47h1.0v1.0h-1.0zM43.32 141.68h1.0v1.0h-1.0zM61.73 124.03h1.0v1.0h-1.0zM59.3 140.58h1.0v1.0h-1.0zM61.2 137.66h1.0v1.0h-1.0zM55.92 120.12h1.0v1.0h-1.0zM58.57 143.65h1.0v1.0h-1.0zM60.37 126.94h1.0v1.0h-1.0zM40.02 99.02h1.0v1.0h-1.0zM55.66 135.69h1.0v1.0h-1.0zM59.97 132.96h1.0v1.0h-1.0zM63.56 113.04h1.0v1.0h-1.0zM49.77 131.15h1.0v1.0h-1.0zM55.01 144.81h1.0v1.0h-1.0zM47.39 136.03h1.0v1.0h-1.0zM38.51 143.24h1.0v1.0h-1.0zM38.92 32.24h1.0v1.0h-1.0zM43.16 53.29h1.0v1.0h-1.0zM56.94 134.61h1.0v1.0h-1.0zM61.19 100.33h1.0v1.0h-1.0zM61.54 118.95h1.0v1.0h-1.0zM41.14 34.1h1.0v1.0h-1.0zM47.07 50.71h1.0v1.0h-1.0zM63.01 104.86h1.0v1.0h-1.0zM63.47 98.15h1.0v1.0h-1.0zM52.48 137.94h1.0v1.0h-1.0zM41.55 55.02h1.0v1.0h-1.0zM63.99 100.28h1.0v1.0h-1.0zM58.85 127.55h1.0v1.0h-1.0zM39.4 47.6h1.0v1.0h-1.0zM36.69 31.84h1.0v1.0h-1.0zM59.09 68.95h1.0v1.0h-1.0zM60.39 142.24h1.0v1.0h-1.0zM57.45 120.29h1.0v1.0h-1.0zM61.11 141.39h1.0v1.0h-1.0zM64.06 94.93h1.0v1.0h-1.0zM37.1 140.66h1.0v1.0h-1.0zM48.12 135.69h1.0v1.0h-1.0zM51.91 54.73h1.0v1.0h-1.0zM61.04 128.76h1.0v1.0h-1.0zM47.22 136.15h1.0v1.0h-1.0zM62.62 128.47h1.0v1.0h-1.0zM42.83 50.26h1.0v1.0h-1.0zM58.02 141.9h1.0v1.0h-1.0zM58.53 119h1.0v1.0h-1.0zM43.78 55.21h1.0v1.0h-1.0zM55.35 61.26h1.0v1.0h-1.0zM40.86 33.37h1.0v1.0h-1.0zM37.83 53.19h1.0v1.0h-1.0zM40.77 47.2h1.0v1.0h-1.0zM63.27 128.08h1.0v1.0h-1.0zM47.26 129.21h1.0v1.0h-1.0zM40.57 48.05h1.0v1.0h-1.0zM40.25 51.61h1.0v1.0h-1.0zM51.38 141.44h1.0v1.0h-1.0zM60.66 127.79h1.0v1.0h-1.0zM51.32 51.96h1.0v1.0h-1.0zM38.67 99.58h1.0v1.0h-1.0zM45.16 52.32h1.0v1.0h-1.0zM60.99 136.46h1.0v1.0h-1.0zM60.17 135.72h1.0v1.0h-1.0zM37.47 35.68h1.0v1.0h-1.0zM64.22 121.71h1.0v1.0h-1.0zM64.72 101.45h1.0v1.0h-1.0zM59.66 137.96h1.0v1.0h-1.0zM47.58 142.42h1.0v1.0h-1.0zM57.14 129.56h1.0v1.0h-1.0zM37.26 145.46h1.0v1.0h-1.0zM64.47 96.22h1.0v1.0h-1.0zM47.01 48.1h1.0v1.0h-1.0zM57.82 140.58h1.0v1.0h-1.0zM47.79 137.37h1.0v1.0h-1.0zM38.87 133.23h1.0v1.0h-1.0zM60.47 113.09h1.0v1.0h-1.0zM63.49 104.28h1.0v1.0h-1.0zM49.98 128.21h1.0v1.0h-1.0zM38.94 139.7h1.0v1.0h-1.0zM55.98 140.6h1.0v1.0h-1.0zM38.13 137.81h1.0v1.0h-1.0zM42 52.8h1.0v1.0h-1.0zM47.99 140.09h1.0v1.0h-1.0zM43.97 36.7h1.0v1.0h-1.0zM54.77 60h1.0v1.0h-1.0zM40.49 38.48h1.0v1.0h-1.0zM43.68 43.11h1.0v1.0h-1.0zM46.44 43.05h1.0v1.0h-1.0zM41.27 142.97h1.0v1.0h-1.0zM61.07 130.4h1.0v1.0h-1.0zM58.77 123.08h1.0v1.0h-1.0zM44.54 43.36h1.0v1.0h-1.0zM50.95 55.83h1.0v1.0h-1.0zM43.82 137.65h1.0v1.0h-1.0zM36.47 40.69h1.0v1.0h-1.0zM64.58 97.21h1.0v1.0h-1.0zM62.98 109.68h1.0v1.0h-1.0zM47.14 134.39h1.0v1.0h-1.0zM60.11 139.52h1.0v1.0h-1.0zM48.95 129.24h1.0v1.0h-1.0zM38.35 45.88h1.0v1.0h-1.0zM43.64 43.38h1.0v1.0h-1.0zM51.82 139.96h1.0v1.0h-1.0zM37.17 140.36h1.0v1.0h-1.0zM57.43 141.62h1.0v1.0h-1.0zM45.29 44.7h1.0v1.0h-1.0zM41.74 57.89h1.0v1.0h-1.0zM63.62 88.72h1.0v1.0h-1.0zM44.67 49.18h1.0v1.0h-1.0zM56.22 133.64h1.0v1.0h-1.0zM61 103.97h1.0v1.0h-1.0zM46.94 137.37h1.0v1.0h-1.0zM46.61 140.66h1.0v1.0h-1.0zM61.35 107.02h1.0v1.0h-1.0zM52.73 142.96h1.0v1.0h-1.0zM47.06 140.37h1.0v1.0h-1.0zM43.6 144.78h1.0v1.0h-1.0zM62.11 119.02h1.0v1.0h-1.0zM51.53 133.93h1.0v1.0h-1.0zM38.46 51.46h1.0v1.0h-1.0zM39.54 35.4h1.0v1.0h-1.0zM37.57 140.29h1.0v1.0h-1.0zM45.35 135.32h1.0v1.0h-1.0zM58.68 129.68h1.0v1.0h-1.0zM40.82 52.64h1.0v1.0h-1.0zM52.2 130.55h1.0v1.0h-1.0zM48.58 53.25h1.0v1.0h-1.0zM43.5 50.4h1.0v1.0h-1.0zM39.11 43.73h1.0v1.0h-1.0zM43.25 135.93h1.0v1.0h-1.0zM37.37 32.47h1.0v1.0h-1.0zM47.93 46.65h1.0v1.0h-1.0zM63.98 107.52h1.0v1.0h-1.0zM58.45 116.87h1.0v1.0h-1.0zM55.81 126.54h1.0v1.0h-1.0zM53.51 132.15h1.0v1.0h-1.0zM65.01 115.2h1.0v1.0h-1.0zM60.85 114.87h1.0v1.0h-1.0zM58.18 120.21h1.0v1.0h-1.0z" fill="#f4f4f4" opacity="1.0"/>
<path d="M39.06 95.17h1.1v1.1h-1.1zM42.2 73.85h1.1v1.1h-1.1zM52.53 97.89h1.1v1.1h-1.1zM48.52 84.59h1.1v1.1h-1.1zM44.64 78.67h1.1v1.1h-1.1zM38.87 85.45h1.1v1.1h-1.1zM50.1 71.76h1.1v1.1h-1.1zM52.31 98.22h1.1v1.1h-1.1zM51.96 71.11h1.1v1.1h-1.1zM48.82 78.7h1.1v1.1h-1.1zM47.05 80.39h1.1v1.1h-1.1zM38.25 73.93h1.1v1.1h-1.1zM50.93 88.91h1.1v1.1h-1.1zM47.13 87.03h1.1v1.1h-1.1zM41.59 82.77h1.1v1.1h-1.1zM40.84 70.84h1.1v1.1h-1.1zM54.24 92.82h1.1v1.1h-1.1zM38.04 78.54h1.1v1.1h-1.1zM54 85.93h1.1v1.1h-1.1zM40.96 80.55h1.1v1.1h-1.1zM56.02 74.81h1.1v1.1h-1.1zM48.26 76.04h1.1v1.1h-1.1zM57.19 75.18h1.1v1.1h-1.1zM42.93 80.39h1.1v1.1h-1.1zM45.01 92.28h1.1v1.1h-1.1zM36.8 83.65h1.1v1.1h-1.1zM45.84 73.9h1.1v1.1h-1.1zM51.55 80.36h1.1v1.1h-1.1zM41.52 90.52h1.1v1.1h-1.1zM50.31 89.29h1.1v1.1h-1.1zM56.7 79.7h1.1v1.1h-1.1zM39.5 75.66h1.1v1.1h-1.1zM39.62 74.58h1.1v1.1h-1.1zM37.33 82.32h1.1v1.1h-1.1zM54.93 96.64h1.1v1.1h-1.1zM53.25 76.91h1.1v1.1h-1.1zM46.23 78.55h1.1v1.1h-1.1zM45.87 93.05h1.1v1.1h-1.1zM50.5 77.47h1.1v1.1h-1.1zM50.49 75.4h1.1v1.1h-1.1zM47.88 77.32h1.1v1.1h-1.1zM38.7 88.89h1.1v1.1h-1.1zM41.37 76.47h1.1v1.1h-1.1zM43.63 90.6h1.1v1.1h-1.1zM45.75 96.81h1.1v1.1h-1.1zM44.95 93.17h1.1v1.1h-1.1zM38.62 85.33h1.1v1.1h-1.1zM37.51 96.68h1.1v1.1h-1.1zM41.34 83.27h1.1v1.1h-1.1zM53.65 78.33h1.1v1.1h-1.1zM45.1 85.09h1.1v1.1h-1.1zM38.66 96.47h1.1v1.1h-1.1zM37.44 96.55h1.1v1.1h-1.1zM39.3 80.16h1.1v1.1h-1.1zM48.82 75.31h1.1v1.1h-1.1zM48.68 71.08h1.1v1.1h-1.1zM44.59 87.01h1.1v1.1h-1.1zM56.4 89.93h1.1v1.1h-1.1zM39.78 96.03h1.1v1.1h-1.1zM47.02 78.79h1.1v1.1h-1.1zM37.33 83.39h1.1v1.1h-1.1zM57.39 86.29h1.1v1.1h-1.1zM47.59 93.6h1.1v1.1h-1.1zM36.6 98.31h1.1v1.1h-1.1zM55.5 77.87h1.1v1.1h-1.1zM51.92 92.82h1.1v1.1h-1.1zM55.06 97.34h1.1v1.1h-1.1zM56.29 96.18h1.1v1.1h-1.1zM39.05 92h1.1v1.1h-1.1zM45.25 96.44h1.1v1.1h-1.1zM51.47 90.22h1.1v1.1h-1.1zM37.27 79.26h1.1v1.1h-1.1zM52.83 87.31h1.1v1.1h-1.1zM45.93 82.28h1.1v1.1h-1.1zM56.29 95.66h1.1v1.1h-1.1zM46.77 78.68h1.1v1.1h-1.1zM50.26 92.74h1.1v1.1h-1.1zM47.47 84.35h1.1v1.1h-1.1zM50.84 87.87h1.1v1.1h-1.1zM47.26 80.72h1.1v1.1h-1.1zM53.41 75.66h1.1v1.1h-1.1zM45.79 84.23h1.1v1.1h-1.1zM40.81 76.83h1.1v1.1h-1.1zM43.76 80.41h1.1v1.1h-1.1zM56.49 78.3h1.1v1.1h-1.1zM38.05 84.55h1.1v1.1h-1.1zM50.26 89.16h1.1v1.1h-1.1zM49.37 77.39h1.1v1.1h-1.1zM56.61 83.22h1.1v1.1h-1.1zM44.45 81.01h1.1v1.1h-1.1zM46.87 97.64h1.1v1.1h-1.1zM56.07 94.85h1.1v1.1h-1.1zM39.58 74.43h1.1v1.1h-1.1zM46.59 87.73h1.1v1.1h-1.1zM48.33 83.94h1.1v1.1h-1.1zM39.53 82.47h1.1v1.1h-1.1zM54.43 71.47h1.1v1.1h-1.1zM45.53 91.54h1.1v1.1h-1.1zM48.54 74.91h1.1v1.1h-1.1zM44.98 87.62h1.1v1.1h-1.1zM48.37 91.1h1.1v1.1h-1.1zM56.99 92.23h1.1v1.1h-1.1zM51.71 72.45h1.1v1.1h-1.1zM46.47 90.27h1.1v1.1h-1.1zM56.03 85.28h1.1v1.1h-1.1zM50.07 80.29h1.1v1.1h-1.1zM50 76.8h1.1v1.1h-1.1zM45.71 89.94h1.1v1.1h-1.1zM46.96 85.32h1.1v1.1h-1.1zM47.01 95.46h1.1v1.1h-1.1zM47.13 70.81h1.1v1.1h-1.1zM48.72 82.21h1.1v1.1h-1.1zM36.53 79.54h1.1v1.1h-1.1zM57.42 88.89h1.1v1.1h-1.1zM50.73 78.15h1.1v1.1h-1.1zM46.6 77.03h1.1v1.1h-1.1zM53.72 80.34h1.1v1.1h-1.1zM55.21 92.37h1.1v1.1h-1.1zM46.56 73.89h1.1v1.1h-1.1zM46.68 70.39h1.1v1.1h-1.1zM48.07 93.15h1.1v1.1h-1.1zM47.15 77.47h1.1v1.1h-1.1zM49.14 83.81h1.1v1.1h-1.1zM46.4 80.88h1.1v1.1h-1.1zM41.13 79.38h1.1v1.1h-1.1zM53.19 85.85h1.1v1.1h-1.1zM52.23 95.82h1.1v1.1h-1.1zM54.3 73.33h1.1v1.1h-1.1zM54.52 73.55h1.1v1.1h-1.1zM53 92.37h1.1v1.1h-1.1zM39.52 93h1.1v1.1h-1.1zM43.67 78.8h1.1v1.1h-1.1zM44.32 71.79h1.1v1.1h-1.1zM36.84 81.09h1.1v1.1h-1.1zM36.97 85.1h1.1v1.1h-1.1zM37.5 96.66h1.1v1.1h-1.1zM38.18 70.83h1.1v1.1h-1.1zM53.32 77.99h1.1v1.1h-1.1zM55.51 77.35h1.1v1.1h-1.1zM47.63 92.66h1.1v1.1h-1.1zM44.68 73.26h1.1v1.1h-1.1zM46.01 74.49h1.1v1.1h-1.1zM46.32 90.53h1.1v1.1h-1.1zM41.23 76.49h1.1v1.1h-1.1zM44.16 81.02h1.1v1.1h-1.1zM55.22 85.5h1.1v1.1h-1.1zM44.74 69.77h1.1v1.1h-1.1zM49.54 97.79h1.1v1.1h-1.1zM38.28 72.75h1.1v1.1h-1.1zM41.46 93.02h1.1v1.1h-1.1zM44.69 76.93h1.1v1.1h-1.1zM37.09 86.08h1.1v1.1h-1.1zM51.18 91.04h1.1v1.1h-1.1zM50.55 71.26h1.1v1.1h-1.1zM37.86 79.95h1.1v1.1h-1.1zM38.52 85.85h1.1v1.1h-1.1zM49.83 90.62h1.1v1.1h-1.1zM51.86 81.41h1.1v1.1h-1.1zM49.24 91.8h1.1v1.1h-1.1zM57.01 91.84h1.1v1.1h-1.1zM43.21 77.72h1.1v1.1h-1.1zM52.08 81.26h1.1v1.1h-1.1zM54.49 96.14h1.1v1.1h-1.1zM37.2 69.99h1.1v1.1h-1.1zM40.49 83.63h1.1v1.1h-1.1zM51.98 75.49h1.1v1.1h-1.1zM40.1 73.04h1.1v1.1h-1.1zM40.59 75.86h1.1v1.1h-1.1zM40.49 88.08h1.1v1.1h-1.1zM37.69 98.43h1.1v1.1h-1.1zM38.07 84.25h1.1v1.1h-1.1zM57.47 95.82h1.1v1.1h-1.1zM48.81 78.03h1.1v1.1h-1.1zM56.57 74.53h1.1v1.1h-1.1zM38.72 71.44h1.1v1.1h-1.1zM44.37 97.68h1.1v1.1h-1.1zM44.16 92.54h1.1v1.1h-1.1zM52.52 97.47h1.1v1.1h-1.1zM56.59 87.76h1.1v1.1h-1.1zM56.49 89.28h1.1v1.1h-1.1zM37.56 79.49h1.1v1.1h-1.1zM38.74 93.15h1.1v1.1h-1.1zM41.07 74.19h1.1v1.1h-1.1zM54.02 93.76h1.1v1.1h-1.1zM36.21 84.91h1.1v1.1h-1.1zM56.47 84.13h1.1v1.1h-1.1zM54.58 91.97h1.1v1.1h-1.1zM39.32 97.57h1.1v1.1h-1.1zM40.64 83.86h1.1v1.1h-1.1zM44.83 97.17h1.1v1.1h-1.1zM44.01 76.87h1.1v1.1h-1.1zM50.86 97.3h1.1v1.1h-1.1zM44.77 95.15h1.1v1.1h-1.1zM47.32 92.02h1.1v1.1h-1.1zM49.12 79.12h1.1v1.1h-1.1zM39.07 84.65h1.1v1.1h-1.1zM41.49 88.91h1.1v1.1h-1.1zM46.86 86.68h1.1v1.1h-1.1zM54.75 83.96h1.1v1.1h-1.1zM41.57 83.22h1.1v1.1h-1.1zM52.25 82.71h1.1v1.1h-1.1zM41.14 76.46h1.1v1.1h-1.1zM42.93 70.04h1.1v1.1h-1.1zM50.08 78.1h1.1v1.1h-1.1zM38.74 92.89h1.1v1.1h-1.1zM37.98 92.29h1.1v1.1h-1.1zM45.19 78.45h1.1v1.1h-1.1zM39.6 85.27h1.1v1.1h-1.1zM39.47 95.47h1.1v1.1h-1.1zM52.43 81.83h1.1v1.1h-1.1zM39.11 70.1h1.1v1.1h-1.1zM46.75 88.2h1.1v1.1h-1.1zM41.01 75.77h1.1v1.1h-1.1zM46.14 82.71h1.1v1.1h-1.1zM56.58 75.76h1.1v1.1h-1.1zM51.63 92.82h1.1v1.1h-1.1zM38.42 81.92h1.1v1.1h-1.1zM45.17 88.99h1.1v1.1h-1.1zM57.29 73.71h1.1v1.1h-1.1zM40.14 89.41h1.1v1.1h-1.1zM56.88 80.36h1.1v1.1h-1.1zM42.96 86.03h1.1v1.1h-1.1zM49.48 81.42h1.1v1.1h-1.1zM36.95 80.64h1.1v1.1h-1.1zM54.42 72.81h1.1v1.1h-1.1zM40.38 93.24h1.1v1.1h-1.1zM39.63 81.82h1.1v1.1h-1.1zM47.02 85.27h1.1v1.1h-1.1zM45.51 78.56h1.1v1.1h-1.1zM53.59 73.31h1.1v1.1h-1.1zM47.14 73.26h1.1v1.1h-1.1zM57.33 74.92h1.1v1.1h-1.1zM57.27 94.43h1.1v1.1h-1.1zM48.57 81.99h1.1v1.1h-1.1zM44.26 94.65h1.1v1.1h-1.1zM47.8 73.74h1.1v1.1h-1.1zM46.33 77.67h1.1v1.1h-1.1zM42.73 74.31h1.1v1.1h-1.1zM37.21 70.7h1.1v1.1h-1.1zM47.32 80.18h1.1v1.1h-1.1zM52.4 79.53h1.1v1.1h-1.1zM47.99 83.17h1.1v1.1h-1.1zM45.38 86.05h1.1v1.1h-1.1zM52.82 96.1h1.1v1.1h-1.1zM40.4 70.44h1.1v1.1h-1.1zM56.58 95.81h1.1v1.1h-1.1zM49.73 90.44h1.1v1.1h-1.1zM38.84 83.78h1.1v1.1h-1.1zM45.54 86.2h1.1v1.1h-1.1zM43.71 87.56h1.1v1.1h-1.1zM57.23 96.08h1.1v1.1h-1.1zM57.4 77.01h1.1v1.1h-1.1zM42.42 88.67h1.1v1.1h-1.1zM49.52 94.68h1.1v1.1h-1.1zM47.73 79.01h1.1v1.1h-1.1zM37.14 94.2h1.1v1.1h-1.1zM40.07 81.11h1.1v1.1h-1.1zM43.77 72.18h1.1v1.1h-1.1zM40.72 85.02h1.1v1.1h-1.1zM46.62 77.06h1.1v1.1h-1.1zM53.01 83.09h1.1v1.1h-1.1zM43.36 70.99h1.1v1.1h-1.1zM49.07 94.92h1.1v1.1h-1.1zM37.6 71.1h1.1v1.1h-1.1zM47.42 83.75h1.1v1.1h-1.1zM36.73 84.16h1.1v1.1h-1.1zM48.22 93.52h1.1v1.1h-1.1zM43.5 78.85h1.1v1.1h-1.1zM46.05 79.87h1.1v1.1h-1.1zM47.42 70.49h1.1v1.1h-1.1zM49.73 71.45h1.1v1.1h-1.1zM45.9 79.8h1.1v1.1h-1.1zM47.23 97.99h1.1v1.1h-1.1zM48.76 77.53h1.1v1.1h-1.1zM36.89 95.01h1.1v1.1h-1.1zM49.71 91.17h1.1v1.1h-1.1zM36.15 73.01h1.1v1.1h-1.1zM43.14 82.36h1.1v1.1h-1.1zM46.3 82.32h1.1v1.1h-1.1zM45.31 76.3h1.1v1.1h-1.1zM55.2 83.77h1.1v1.1h-1.1zM36.42 91.33h1.1v1.1h-1.1zM43.9 88.52h1.1v1.1h-1.1zM36.26 81.4h1.1v1.1h-1.1zM53.92 74.15h1.1v1.1h-1.1zM46.23 77.31h1.1v1.1h-1.1zM56.02 92.54h1.1v1.1h-1.1zM47.85 89.48h1.1v1.1h-1.1zM39.5 77.74h1.1v1.1h-1.1zM56.34 79.04h1.1v1.1h-1.1zM53.84 78.6h1.1v1.1h-1.1zM57.47 72.03h1.1v1.1h-1.1zM56.85 86.42h1.1v1.1h-1.1zM47.97 97.64h1.1v1.1h-1.1zM48.87 76.01h1.1v1.1h-1.1zM39.28 81.57h1.1v1.1h-1.1zM42.84 74.8h1.1v1.1h-1.1zM41.61 87.59h1.1v1.1h-1.1zM57.34 79.62h1.1v1.1h-1.1zM55.49 92.23h1.1v1.1h-1.1z" fill="#2a2a2a" opacity="1.0"/>
<path d="M37.37 86.66h1.0v1.0h-1.0zM55.81 83.46h1.0v1.0h-1.0zM51.11 75.48h1.0v1.0h-1.0zM39.77 97.81h1.0v1.0h-1.0zM40.24 77.17h1.0v1.0h-1.0zM50.45 72.43h1.0v1.0h-1.0zM44.16 92.34h1.0v1.0h-1.0zM42.64 87.62h1.0v1.0h-1.0zM43.85 73.41h1.0v1.0h-1.0zM36.29 74.81h1.0v1.0h-1.0zM47.51 88.8h1.0v1.0h-1.0zM51.93 95.32h1.0v1.0h-1.0zM49.03 94.49h1.0v1.0h-1.0zM44.55 75.19h1.0v1.0h-1.0zM51.96 84.18h1.0v1.0h-1.0zM45.71 83.3h1.0v1.0h-1.0zM48.35 92.4h1.0v1.0h-1.0zM52.48 87.7h1.0v1.0h-1.0zM52.98 86.37h1.0v1.0h-1.0zM46.59 69.65h1.0v1.0h-1.0zM51.51 76.61h1.0v1.0h-1.0zM39.33 87.27h1.0v1.0h-1.0zM36.74 94.1h1.0v1.0h-1.0zM51 98.51h1.0v1.0h-1.0zM45.98 74.53h1.0v1.0h-1.0zM53.22 73.92h1.0v1.0h-1.0zM52.82 80.14h1.0v1.0h-1.0zM38.65 80.45h1.0v1.0h-1.0zM53.66 89.88h1.0v1.0h-1.0zM36.48 92.81h1.0v1.0h-1.0zM44.87 79.95h1.0v1.0h-1.0zM54.85 73.14h1.0v1.0h-1.0zM46.72 81.53h1.0v1.0h-1.0zM39.95 82.42h1.0v1.0h-1.0zM42.05 87.95h1.0v1.0h-1.0zM54.24 72.03h1.0v1.0h-1.0zM56.63 89.21h1.0v1.0h-1.0zM48.74 96.7h1.0v1.0h-1.0zM42.74 87.95h1.0v1.0h-1.0zM47.94 86.95h1.0v1.0h-1.0zM43.39 76.53h1.0v1.0h-1.0zM44.5 97.05h1.0v1.0h-1.0zM46.79 79.35h1.0v1.0h-1.0zM39.79 73.53h1.0v1.0h-1.0zM39.47 84.27h1.0v1.0h-1.0zM52.14 71.62h1.0v1.0h-1.0zM54.04 73.78h1.0v1.0h-1.0zM39.75 89.9h1.0v1.0h-1.0zM41.12 91.01h1.0v1.0h-1.0zM39.75 86.33h1.0v1.0h-1.0zM46.81 80.32h1.0v1.0h-1.0zM40.47 89.31h1.0v1.0h-1.0zM52.57 89.99h1.0v1.0h-1.0zM36.45 96.62h1.0v1.0h-1.0zM56.92 92.4h1.0v1.0h-1.0zM48.37 74.66h1.0v1.0h-1.0zM48.4 92.51h1.0v1.0h-1.0zM36.13 79.01h1.0v1.0h-1.0zM43.4 83.48h1.0v1.0h-1.0zM40.77 90.37h1.0v1.0h-1.0zM39.47 80.68h1.0v1.0h-1.0zM57.13 80.17h1.0v1.0h-1.0zM46.23 81.34h1.0v1.0h-1.0zM42.23 75.93h1.0v1.0h-1.0zM53.95 79.39h1.0v1.0h-1.0zM52.16 81.69h1.0v1.0h-1.0zM54.57 94.84h1.0v1.0h-1.0zM54.05 89.72h1.0v1.0h-1.0zM39.02 94.28h1.0v1.0h-1.0zM50.16 87.1h1.0v1.0h-1.0zM51.3 97.52h1.0v1.0h-1.0zM48.5 79.34h1.0v1.0h-1.0zM36.27 87.52h1.0v1.0h-1.0zM41.33 93.33h1.0v1.0h-1.0zM51.39 89.75h1.0v1.0h-1.0zM42.32 98.01h1.0v1.0h-1.0zM53.63 85.44h1.0v1.0h-1.0zM53.87 96.55h1.0v1.0h-1.0zM51.89 70.82h1.0v1.0h-1.0zM47.58 72.8h1.0v1.0h-1.0zM56.61 80.54h1.0v1.0h-1.0zM44.17 96.04h1.0v1.0h-1.0zM41.37 86.54h1.0v1.0h-1.0zM39.09 81.8h1.0v1.0h-1.0zM45.79 79.78h1.0v1.0h-1.0zM36.89 91.85h1.0v1.0h-1.0zM42.3 74.18h1.0v1.0h-1.0zM46.22 97.98h1.0v1.0h-1.0zM42.02 72.62h1.0v1.0h-1.0zM43.87 94.37h1.0v1.0h-1.0zM43.47 95.33h1.0v1.0h-1.0zM39.1 92.27h1.0v1.0h-1.0zM44.05 97.15h1.0v1.0h-1.0zM48.93 71.55h1.0v1.0h-1.0zM52.91 69.16h1.0v1.0h-1.0zM42.07 94.47h1.0v1.0h-1.0zM36.41 80.08h1.0v1.0h-1.0zM36.28 76.12h1.0v1.0h-1.0zM54.37 79.3h1.0v1.0h-1.0zM42.09 92.73h1.0v1.0h-1.0zM46.72 79.46h1.0v1.0h-1.0zM48.12 90.39h1.0v1.0h-1.0zM49.26 79.5h1.0v1.0h-1.0zM51.32 81.98h1.0v1.0h-1.0zM54.02 97.86h1.0v1.0h-1.0zM45.82 84.26h1.0v1.0h-1.0zM56.09 72.31h1.0v1.0h-1.0zM46.84 73.74h1.0v1.0h-1.0zM52.25 73.02h1.0v1.0h-1.0zM52.2 91.63h1.0v1.0h-1.0zM51.44 78.06h1.0v1.0h-1.0zM48.18 80.78h1.0v1.0h-1.0zM39 89.01h1.0v1.0h-1.0zM49.28 83.07h1.0v1.0h-1.0zM48.62 90.75h1.0v1.0h-1.0zM43.17 96.89h1.0v1.0h-1.0zM37.05 73.48h1.0v1.0h-1.0zM48.7 85.61h1.0v1.0h-1.0zM43.71 82.91h1.0v1.0h-1.0zM43.68 95.02h1.0v1.0h-1.0zM53.41 72.98h1.0v1.0h-1.0zM42.13 82.73h1.0v1.0h-1.0zM37.27 77.62h1.0v1.0h-1.0zM44.27 73.6h1.0v1.0h-1.0zM54.1 88.11h1.0v1.0h-1.0zM56.2 74.54h1.0v1.0h-1.0zM45.81 83.18h1.0v1.0h-1.0zM49.52 96.81h1.0v1.0h-1.0zM51.64 81.35h1.0v1.0h-1.0zM55.81 76.71h1.0v1.0h-1.0zM50.51 84.86h1.0v1.0h-1.0zM44.81 77.25h1.0v1.0h-1.0zM40.95 73.72h1.0v1.0h-1.0zM48.5 74.46h1.0v1.0h-1.0zM43.31 76.63h1.0v1.0h-1.0zM55.6 86.95h1.0v1.0h-1.0zM36.67 76.22h1.0v1.0h-1.0zM56.09 73.53h1.0v1.0h-1.0zM53.46 82.23h1.0v1.0h-1.0zM50.97 96.61h1.0v1.0h-1.0zM57.04 75.06h1.0v1.0h-1.0zM55.21 89.41h1.0v1.0h-1.0zM43.95 86.82h1.0v1.0h-1.0zM47.54 76.66h1.0v1.0h-1.0zM36.27 96.48h1.0v1.0h-1.0zM36.46 80.7h1.0v1.0h-1.0zM44.99 81.18h1.0v1.0h-1.0zM37.56 93.95h1.0v1.0h-1.0zM49.84 94.26h1.0v1.0h-1.0zM39.9 83.31h1.0v1.0h-1.0z" fill="#7a7a7a" opacity="1.0"/>
<path d="M47.18 122.85h1.0v1.0h-1.0zM45.31 115.51h1.0v1.0h-1.0zM44.16 115.9h1.0v1.0h-1.0zM56.56 106.71h1.0v1.0h-1.0zM43.31 108.1h1.0v1.0h-1.0zM51.37 105h1.0v1.0h-1.0zM42.88 115.16h1.0v1.0h-1.0zM42.87 110.17h1.0v1.0h-1.0zM41.45 121.93h1.0v1.0h-1.0zM42.46 121.68h1.0v1.0h-1.0zM46.05 103.01h1.0v1.0h-1.0zM57.98 103.63h1.0v1.0h-1.0zM53.39 103.19h1.0v1.0h-1.0zM46.98 111.83h1.0v1.0h-1.0zM44.2 113.39h1.0v1.0h-1.0zM50.9 117.56h1.0v1.0h-1.0zM47.21 112.09h1.0v1.0h-1.0zM48.55 117.53h1.0v1.0h-1.0zM37.11 122.28h1.0v1.0h-1.0zM43.11 130.7h1.0v1.0h-1.0zM51.21 115.66h1.0v1.0h-1.0zM45.91 129.54h1.0v1.0h-1.0zM40.15 107.87h1.0v1.0h-1.0zM59.96 109.09h1.0v1.0h-1.0zM49.86 110.15h1.0v1.0h-1.0zM47.5 117.07h1.0v1.0h-1.0zM41.94 108.89h1.0v1.0h-1.0zM56.56 113.67h1.0v1.0h-1.0zM38.69 117.13h1.0v1.0h-1.0zM47.25 117.95h1.0v1.0h-1.0zM49.49 117.71h1.0v1.0h-1.0zM42.37 106.17h1.0v1.0h-1.0zM38.73 121.39h1.0v1.0h-1.0zM40.78 127.28h1.0v1.0h-1.0zM47.17 102.71h1.0v1.0h-1.0zM41.96 128.22h1.0v1.0h-1.0zM60.11 105.52h1.0v1.0h-1.0zM46.65 124.34h1.0v1.0h-1.0zM56.01 114.47h1.0v1.0h-1.0zM50.28 119.54h1.0v1.0h-1.0zM52.67 104.46h1.0v1.0h-1.0zM49.85 112.84h1.0v1.0h-1.0zM40.6 123.65h1.0v1.0h-1.0zM47.17 117.76h1.0v1.0h-1.0zM45.96 110.42h1.0v1.0h-1.0zM44.01 125.53h1.0v1.0h-1.0zM49.52 105.18h1.0v1.0h-1.0zM38.8 131.3h1.0v1.0h-1.0zM37.14 103.12h1.0v1.0h-1.0zM59.42 109.61h1.0v1.0h-1.0zM57.03 117.12h1.0v1.0h-1.0zM49.65 113.71h1.0v1.0h-1.0zM42.43 113.23h1.0v1.0h-1.0zM43.82 107.88h1.0v1.0h-1.0zM56.19 106.36h1.0v1.0h-1.0zM36.45 116.74h1.0v1.0h-1.0zM38.18 122.48h1.0v1.0h-1.0zM48.95 102.38h1.0v1.0h-1.0zM42.32 110.53h1.0v1.0h-1.0zM44.32 120.2h1.0v1.0h-1.0zM36.34 102.05h1.0v1.0h-1.0zM39.79 101.02h1.0v1.0h-1.0zM37.17 103.03h1.0v1.0h-1.0zM37.91 112.44h1.0v1.0h-1.0zM44.22 123.22h1.0v1.0h-1.0zM45.64 126.25h1.0v1.0h-1.0zM38.83 128.33h1.0v1.0h-1.0zM41.88 125.06h1.0v1.0h-1.0zM41.25 119.89h1.0v1.0h-1.0zM43.57 129.13h1.0v1.0h-1.0zM52.26 115.52h1.0v1.0h-1.0zM44.29 122.88h1.0v1.0h-1.0zM53.73 111.48h1.0v1.0h-1.0zM44.96 120.05h1.0v1.0h-1.0zM48.73 126.55h1.0v1.0h-1.0zM53.92 103.18h1.0v1.0h-1.0zM56.25 105.02h1.0v1.0h-1.0zM47.98 122.93h1.0v1.0h-1.0zM38.62 125.52h1.0v1.0h-1.0zM43.64 106.66h1.0v1.0h-1.0zM37.43 116.79h1.0v1.0h-1.0zM42.18 127.03h1.0v1.0h-1.0zM42.61 111.65h1.0v1.0h-1.0zM48.59 116.55h1.0v1.0h-1.0zM57.89 105.99h1.0v1.0h-1.0zM57.52 109.66h1.0v1.0h-1.0zM60.09 102.47h1.0v1.0h-1.0zM36.24 106.51h1.0v1.0h-1.0zM53.19 110.61h1.0v1.0h-1.0zM57.38 110.46h1.0v1.0h-1.0zM46.82 111.1h1.0v1.0h-1.0zM38.4 110.84h1.0v1.0h-1.0zM55.08 105.49h1.0v1.0h-1.0zM41.81 105.37h1.0v1.0h-1.0zM41.08 121.95h1.0v1.0h-1.0zM43.3 116.47h1.0v1.0h-1.0zM50.43 99.73h1.0v1.0h-1.0zM42.75 117.14h1.0v1.0h-1.0zM56.06 106.58h1.0v1.0h-1.0zM40.05 107.02h1.0v1.0h-1.0zM43.89 128.09h1.0v1.0h-1.0zM48.62 107.13h1.0v1.0h-1.0zM38.59 123.66h1.0v1.0h-1.0zM46.15 122.55h1.0v1.0h-1.0zM38.79 115.69h1.0v1.0h-1.0zM50.92 102.96h1.0v1.0h-1.0zM53.49 105.07h1.0v1.0h-1.0zM54.76 102.89h1.0v1.0h-1.0zM51.68 107.35h1.0v1.0h-1.0zM44 104.66h1.0v1.0h-1.0zM49.2 126.38h1.0v1.0h-1.0zM56.41 102.66h1.0v1.0h-1.0zM56.97 105.61h1.0v1.0h-1.0zM50.17 107.62h1.0v1.0h-1.0zM37.17 120.16h1.0v1.0h-1.0zM60.12 105.66h1.0v1.0h-1.0zM40.73 129.91h1.0v1.0h-1.0zM38.88 122.26h1.0v1.0h-1.0zM43.91 117.86h1.0v1.0h-1.0zM54.33 101.84h1.0v1.0h-1.0zM36.72 100.13h1.0v1.0h-1.0zM47.29 108.9h1.0v1.0h-1.0zM58.54 105.13h1.0v1.0h-1.0zM41.65 108.77h1.0v1.0h-1.0zM58.24 110.79h1.0v1.0h-1.0zM41.39 118.52h1.0v1.0h-1.0zM36.21 118.58h1.0v1.0h-1.0zM47.05 100.81h1.0v1.0h-1.0zM44.23 117.39h1.0v1.0h-1.0zM44.65 130.19h1.0v1.0h-1.0zM41.36 123.37h1.0v1.0h-1.0zM36.78 113.27h1.0v1.0h-1.0zM41.48 114.98h1.0v1.0h-1.0zM53.24 111.92h1.0v1.0h-1.0zM58.56 102.15h1.0v1.0h-1.0zM56.15 111.1h1.0v1.0h-1.0zM55.91 100.35h1.0v1.0h-1.0zM47.12 108.43h1.0v1.0h-1.0zM46.15 102.38h1.0v1.0h-1.0zM55.3 101.8h1.0v1.0h-1.0zM42.8 101.27h1.0v1.0h-1.0zM53.95 105.57h1.0v1.0h-1.0zM51.7 107.8h1.0v1.0h-1.0zM38.12 111.03h1.0v1.0h-1.0zM44.05 123.69h1.0v1.0h-1.0zM55.05 100.49h1.0v1.0h-1.0zM36.35 109.03h1.0v1.0h-1.0zM59.66 99.65h1.0v1.0h-1.0zM41.41 102.27h1.0v1.0h-1.0zM53.27 105.48h1.0v1.0h-1.0zM45.75 128.46h1.0v1.0h-1.0zM44.14 118.84h1.0v1.0h-1.0zM39.77 107.14h1.0v1.0h-1.0zM60.13 109.99h1.0v1.0h-1.0zM46.24 127.24h1.0v1.0h-1.0zM41.98 119.78h1.0v1.0h-1.0zM56.36 109.42h1.0v1.0h-1.0zM55.74 117.81h1.0v1.0h-1.0zM36.98 103.96h1.0v1.0h-1.0zM51.71 106.59h1.0v1.0h-1.0z" fill="#505050" opacity="1.0"/>
<path d="M42.7 103.03h1.0v1.0h-1.0zM38.89 117.41h1.0v1.0h-1.0zM44.41 125.45h1.0v1.0h-1.0zM41.36 126.72h1.0v1.0h-1.0zM41.52 102.04h1.0v1.0h-1.0zM42.22 108.6h1.0v1.0h-1.0zM46.93 115.23h1.0v1.0h-1.0zM45.54 106.05h1.0v1.0h-1.0zM42.31 123.67h1.0v1.0h-1.0zM43.63 121.99h1.0v1.0h-1.0zM50.81 111.4h1.0v1.0h-1.0zM39.07 118.69h1.0v1.0h-1.0zM60.24 105.5h1.0v1.0h-1.0zM52.9 115.3h1.0v1.0h-1.0zM50.26 120.17h1.0v1.0h-1.0zM39.5 107.28h1.0v1.0h-1.0zM42.94 103.5h1.0v1.0h-1.0zM51.4 109.59h1.0v1.0h-1.0zM50.18 118.93h1.0v1.0h-1.0zM41.68 121.46h1.0v1.0h-1.0zM44.83 111.1h1.0v1.0h-1.0zM54.57 113.23h1.0v1.0h-1.0zM54.1 107.19h1.0v1.0h-1.0zM54.75 107.02h1.0v1.0h-1.0zM43.09 104.74h1.0v1.0h-1.0zM45.56 103.83h1.0v1.0h-1.0zM50.48 101.7h1.0v1.0h-1.0zM58.98 108.62h1.0v1.0h-1.0zM43.75 105.44h1.0v1.0h-1.0zM51.82 112.36h1.0v1.0h-1.0zM42.39 105.19h1.0v1.0h-1.0zM51.22 117.79h1.0v1.0h-1.0zM49.13 116.32h1.0v1.0h-1.0zM40.53 104.77h1.0v1.0h-1.0zM51.15 108.24h1.0v1.0h-1.0zM49.47 111.28h1.0v1.0h-1.0zM39.29 127.16h1.0v1.0h-1.0zM43.79 110h1.0v1.0h-1.0zM44.76 117.63h1.0v1.0h-1.0zM48.78 118.44h1.0v1.0h-1.0zM40.57 107.08h1.0v1.0h-1.0zM44.73 118.63h1.0v1.0h-1.0zM47.18 120.63h1.0v1.0h-1.0zM36.58 115.07h1.0v1.0h-1.0zM51 101.54h1.0v1.0h-1.0zM36.14 101.8h1.0v1.0h-1.0zM45.62 105.19h1.0v1.0h-1.0zM49.77 105h1.0v1.0h-1.0zM45.3 118.53h1.0v1.0h-1.0zM48.95 102.36h1.0v1.0h-1.0zM49.96 105.97h1.0v1.0h-1.0zM47.11 120.18h1.0v1.0h-1.0zM47.31 101.36h1.0v1.0h-1.0zM55.7 112.97h1.0v1.0h-1.0zM40.48 129.08h1.0v1.0h-1.0zM41.85 107.57h1.0v1.0h-1.0zM41.7 110.19h1.0v1.0h-1.0zM39.86 108.8h1.0v1.0h-1.0zM42.38 118.62h1.0v1.0h-1.0zM42.75 130.16h1.0v1.0h-1.0zM42.81 111.52h1.0v1.0h-1.0zM48.27 106.96h1.0v1.0h-1.0zM37.06 103.25h1.0v1.0h-1.0zM37 121.54h1.0v1.0h-1.0zM44.84 117.9h1.0v1.0h-1.0zM48.53 114.09h1.0v1.0h-1.0zM37.14 106.35h1.0v1.0h-1.0zM39.86 108.77h1.0v1.0h-1.0zM45.59 103.83h1.0v1.0h-1.0zM54.28 108.38h1.0v1.0h-1.0zM41.98 101h1.0v1.0h-1.0zM56.63 116.28h1.0v1.0h-1.0zM44.37 102.93h1.0v1.0h-1.0zM42.72 127.12h1.0v1.0h-1.0zM57.06 109.53h1.0v1.0h-1.0zM36.97 100.01h1.0v1.0h-1.0zM43.85 107.42h1.0v1.0h-1.0zM46.55 109.92h1.0v1.0h-1.0zM41.48 122.84h1.0v1.0h-1.0zM42.83 120.94h1.0v1.0h-1.0zM38.81 105.66h1.0v1.0h-1.0zM45.99 102.73h1.0v1.0h-1.0zM48.63 111.73h1.0v1.0h-1.0zM46.08 109.92h1.0v1.0h-1.0zM42.49 112.14h1.0v1.0h-1.0zM43.41 103.66h1.0v1.0h-1.0zM41.27 117.17h1.0v1.0h-1.0zM53.52 105.84h1.0v1.0h-1.0zM46.98 105.75h1.0v1.0h-1.0zM44.03 126h1.0v1.0h-1.0zM50.8 107.09h1.0v1.0h-1.0zM45.32 113.06h1.0v1.0h-1.0zM58.73 99.71h1.0v1.0h-1.0zM54.88 101.26h1.0v1.0h-1.0zM41.15 118.83h1.0v1.0h-1.0zM44.28 131.07h1.0v1.0h-1.0zM56.03 108.84h1.0v1.0h-1.0zM39.08 115.05h1.0v1.0h-1.0zM37.43 114.73h1.0v1.0h-1.0zM50.38 116.5h1.0v1.0h-1.0zM45.85 101.23h1.0v1.0h-1.0zM38.48 119.78h1.0v1.0h-1.0zM37.49 108.67h1.0v1.0h-1.0zM59.7 107.39h1.0v1.0h-1.0zM59.61 102.25h1.0v1.0h-1.0zM41.21 129.96h1.0v1.0h-1.0zM40.71 119.49h1.0v1.0h-1.0zM40.07 103.3h1.0v1.0h-1.0zM50.27 124.5h1.0v1.0h-1.0zM46.32 102.39h1.0v1.0h-1.0z" fill="#b4b4b4" opacity="1.0"/>
<rect x="35.5" y="69" width="2.6" height="30" fill="#1c1c1c"/>
<rect x="35.5" y="99.6" width="1.8" height="24" fill="#5a5a5a"/>
<rect x="35.5" y="142.5" width="27" height="2.0" fill="#3a3a3a"/>
<rect x="62.5" y="142.7" width="6" height="1.6" fill="#999"/>
<rect x="37.7" y="126" width="1.6" height="1.6" fill="#606060"/>
<rect x="40.2" y="129.2" width="1.6" height="1.6" fill="#606060"/>
<rect x="43.5" y="130.4" width="1.6" height="1.6" fill="#606060"/>
<rect x="50.5" y="125.2" width="1.6" height="1.6" fill="#606060"/>
<rect x="53.7" y="126.6" width="1.6" height="1.6" fill="#606060"/>
<rect x="46.2" y="132.7" width="1.6" height="1.6" fill="#606060"/>
<rect x="39.2" y="134.7" width="1.6" height="1.6" fill="#606060"/>
<rect x="55.2" y="123.7" width="1.6" height="1.6" fill="#606060"/>
<rect x="42.2" y="137.2" width="1.6" height="1.6" fill="#606060"/>
<path d="M107.32 64.76h0.9v0.9h-0.9zM99.6 93.75h0.9v0.9h-0.9zM105.38 62.79h0.9v0.9h-0.9zM101.25 95.98h0.9v0.9h-0.9zM98.77 74.64h0.9v0.9h-0.9zM103.3 90.36h0.9v0.9h-0.9zM94.45 74.64h0.9v0.9h-0.9zM88.22 98.41h0.9v0.9h-0.9zM93.29 79.67h0.9v0.9h-0.9zM89.83 74.92h0.9v0.9h-0.9zM108.81 94.08h0.9v0.9h-0.9zM84.88 77.5h0.9v0.9h-0.9zM95.07 76.63h0.9v0.9h-0.9zM85.36 78.24h0.9v0.9h-0.9zM82.13 94.77h0.9v0.9h-0.9zM97.63 90.28h0.9v0.9h-0.9zM96.17 58.62h0.9v0.9h-0.9zM84.38 95.75h0.9v0.9h-0.9zM98.6 81.67h0.9v0.9h-0.9zM101.56 97.4h0.9v0.9h-0.9zM88.33 96.21h0.9v0.9h-0.9zM98.53 84.22h0.9v0.9h-0.9zM108.22 94.4h0.9v0.9h-0.9zM85.56 83.83h0.9v0.9h-0.9zM111.83 84.93h0.9v0.9h-0.9zM84.26 98.49h0.9v0.9h-0.9zM100.56 80h0.9v0.9h-0.9zM92.86 88.79h0.9v0.9h-0.9zM90.47 66.37h0.9v0.9h-0.9zM109.32 70.8h0.9v0.9h-0.9zM108.39 86.84h0.9v0.9h-0.9zM106.97 95.92h0.9v0.9h-0.9zM98.72 68.77h0.9v0.9h-0.9zM85.98 76.87h0.9v0.9h-0.9zM97.14 96.07h0.9v0.9h-0.9zM100.44 60.54h0.9v0.9h-0.9zM97.1 82.51h0.9v0.9h-0.9zM93.06 79.42h0.9v0.9h-0.9zM100.35 77.41h0.9v0.9h-0.9zM110.19 86.44h0.9v0.9h-0.9zM88.94 86.5h0.9v0.9h-0.9zM102.91 89.16h0.9v0.9h-0.9zM87.03 83.81h0.9v0.9h-0.9zM108.43 95.56h0.9v0.9h-0.9zM91.43 84.31h0.9v0.9h-0.9zM109.13 89.43h0.9v0.9h-0.9zM97.71 94.04h0.9v0.9h-0.9zM102.24 70.58h0.9v0.9h-0.9zM87.55 94.27h0.9v0.9h-0.9zM86.62 81.38h0.9v0.9h-0.9zM111.8 83.01h0.9v0.9h-0.9zM94.57 91.2h0.9v0.9h-0.9zM88.72 91.61h0.9v0.9h-0.9zM83.47 94.45h0.9v0.9h-0.9zM102.61 90.12h0.9v0.9h-0.9z" fill="#acacac" opacity="1.0"/>
<path d="M91.11 107.08h0.9v0.9h-0.9zM100.85 123.78h0.9v0.9h-0.9zM100.44 103.43h0.9v0.9h-0.9zM105.63 106.71h0.9v0.9h-0.9zM85.6 140.11h0.9v0.9h-0.9zM91.16 130.95h0.9v0.9h-0.9zM116.95 131.43h0.9v0.9h-0.9zM85.78 104.62h0.9v0.9h-0.9zM95.16 103.25h0.9v0.9h-0.9zM105.2 145.3h0.9v0.9h-0.9zM103.82 105.63h0.9v0.9h-0.9zM97.79 116.17h0.9v0.9h-0.9zM88.78 108.31h0.9v0.9h-0.9zM82.63 134.33h0.9v0.9h-0.9zM106.69 137.76h0.9v0.9h-0.9zM89.5 113.46h0.9v0.9h-0.9zM88.96 111.62h0.9v0.9h-0.9zM93.71 121.24h0.9v0.9h-0.9zM102.76 141.73h0.9v0.9h-0.9zM81.68 114.61h0.9v0.9h-0.9zM81.03 119.89h0.9v0.9h-0.9zM90.6 140.2h0.9v0.9h-0.9zM84.88 126.66h0.9v0.9h-0.9zM82.61 113.39h0.9v0.9h-0.9zM96.51 125.84h0.9v0.9h-0.9zM103.53 127.74h0.9v0.9h-0.9zM97.57 132.1h0.9v0.9h-0.9zM101.36 133.33h0.9v0.9h-0.9zM103.15 117.36h0.9v0.9h-0.9zM105.11 120.18h0.9v0.9h-0.9zM94.77 113.08h0.9v0.9h-0.9zM100.47 128.91h0.9v0.9h-0.9zM95.56 100.28h0.9v0.9h-0.9zM105.19 129.65h0.9v0.9h-0.9zM98.91 120.52h0.9v0.9h-0.9zM100.9 145.3h0.9v0.9h-0.9zM82.98 126.98h0.9v0.9h-0.9zM89.11 145.42h0.9v0.9h-0.9zM91.56 116.47h0.9v0.9h-0.9zM90.03 105.96h0.9v0.9h-0.9zM108.08 116.23h0.9v0.9h-0.9zM97.07 119.7h0.9v0.9h-0.9zM88.97 140.15h0.9v0.9h-0.9zM102.11 116.26h0.9v0.9h-0.9zM89.38 104.51h0.9v0.9h-0.9zM92.46 137.41h0.9v0.9h-0.9zM99.38 123h0.9v0.9h-0.9zM86.94 139.95h0.9v0.9h-0.9zM84.13 106.67h0.9v0.9h-0.9zM85.54 114.15h0.9v0.9h-0.9zM94.61 117.8h0.9v0.9h-0.9zM83.36 103.8h0.9v0.9h-0.9zM92.83 107.78h0.9v0.9h-0.9zM108.41 144.47h0.9v0.9h-0.9zM107.22 120.9h0.9v0.9h-0.9zM92.38 115.3h0.9v0.9h-0.9zM103.6 129.61h0.9v0.9h-0.9zM88.2 138.34h0.9v0.9h-0.9zM81.16 137.15h0.9v0.9h-0.9zM83.48 127.07h0.9v0.9h-0.9zM112.05 138.38h0.9v0.9h-0.9zM86.02 123.24h0.9v0.9h-0.9zM82.02 132h0.9v0.9h-0.9zM94.74 107.34h0.9v0.9h-0.9zM104.78 115h0.9v0.9h-0.9zM101.08 119.05h0.9v0.9h-0.9zM112.71 113.75h0.9v0.9h-0.9zM88.93 122.64h0.9v0.9h-0.9zM91.77 102.33h0.9v0.9h-0.9zM92.94 139.55h0.9v0.9h-0.9zM100.73 135.17h0.9v0.9h-0.9zM86.17 134.96h0.9v0.9h-0.9zM92.62 105.6h0.9v0.9h-0.9zM98.74 115.14h0.9v0.9h-0.9zM90.6 142.83h0.9v0.9h-0.9zM82.9 119.3h0.9v0.9h-0.9zM82.35 144.22h0.9v0.9h-0.9zM106.55 128.78h0.9v0.9h-0.9zM97.87 119.13h0.9v0.9h-0.9zM95.42 102.7h0.9v0.9h-0.9zM99.83 106.39h0.9v0.9h-0.9zM106.45 104.55h0.9v0.9h-0.9zM85.19 131.83h0.9v0.9h-0.9zM87.78 123.97h0.9v0.9h-0.9zM107.37 119.45h0.9v0.9h-0.9zM97.88 142.66h0.9v0.9h-0.9zM98.37 111.18h0.9v0.9h-0.9zM84.65 131.27h0.9v0.9h-0.9zM82.61 107.47h0.9v0.9h-0.9zM86.47 141.77h0.9v0.9h-0.9zM89.08 145.2h0.9v0.9h-0.9zM107.55 121.34h0.9v0.9h-0.9zM86.88 137.73h0.9v0.9h-0.9zM84.25 102.96h0.9v0.9h-0.9zM88.79 134.73h0.9v0.9h-0.9zM86.27 110.2h0.9v0.9h-0.9zM90.35 133.43h0.9v0.9h-0.9zM92.38 124.89h0.9v0.9h-0.9zM86.31 138.42h0.9v0.9h-0.9zM109.68 103.98h0.9v0.9h-0.9zM98.34 113.58h0.9v0.9h-0.9zM102.78 100.79h0.9v0.9h-0.9zM104.5 145.26h0.9v0.9h-0.9zM96.5 108.83h0.9v0.9h-0.9zM91.6 130.18h0.9v0.9h-0.9zM81.24 127.87h0.9v0.9h-0.9zM90.06 129.3h0.9v0.9h-0.9zM88.59 132.29h0.9v0.9h-0.9zM82.66 140.36h0.9v0.9h-0.9zM101.88 124h0.9v0.9h-0.9zM88.14 124.38h0.9v0.9h-0.9zM83.67 124.22h0.9v0.9h-0.9zM100.68 137.21h0.9v0.9h-0.9zM98.09 107.02h0.9v0.9h-0.9zM113.19 122.12h0.9v0.9h-0.9zM105.9 118.13h0.9v0.9h-0.9zM94.75 112.37h0.9v0.9h-0.9zM104.92 123.49h0.9v0.9h-0.9zM108.67 122.77h0.9v0.9h-0.9zM90.62 125.33h0.9v0.9h-0.9zM104.3 133.89h0.9v0.9h-0.9zM109.28 126.44h0.9v0.9h-0.9zM85.29 128.4h0.9v0.9h-0.9zM102.66 111.02h0.9v0.9h-0.9zM101.14 100.61h0.9v0.9h-0.9zM88.08 136.18h0.9v0.9h-0.9zM83.87 107.22h0.9v0.9h-0.9zM86.8 136.36h0.9v0.9h-0.9zM113.21 133.48h0.9v0.9h-0.9zM109.37 132.49h0.9v0.9h-0.9zM100.22 125.18h0.9v0.9h-0.9zM83.06 138.8h0.9v0.9h-0.9zM84.28 122.77h0.9v0.9h-0.9zM96.75 132.67h0.9v0.9h-0.9zM86.64 112.95h0.9v0.9h-0.9zM104.1 108.28h0.9v0.9h-0.9zM89.88 103.19h0.9v0.9h-0.9zM84.79 106.21h0.9v0.9h-0.9zM85.94 102.48h0.9v0.9h-0.9zM81.35 133.2h0.9v0.9h-0.9zM81.09 106.67h0.9v0.9h-0.9zM95.83 114.52h0.9v0.9h-0.9zM85.97 129.68h0.9v0.9h-0.9zM87.97 145h0.9v0.9h-0.9zM97.47 130h0.9v0.9h-0.9zM101.14 105.12h0.9v0.9h-0.9zM106.16 126.5h0.9v0.9h-0.9zM100.94 141.75h0.9v0.9h-0.9zM89.56 117.3h0.9v0.9h-0.9zM94.82 102.67h0.9v0.9h-0.9zM97.59 106.2h0.9v0.9h-0.9zM81.17 141.43h0.9v0.9h-0.9zM101.67 142.98h0.9v0.9h-0.9zM102.71 112.81h0.9v0.9h-0.9zM110.78 109.25h0.9v0.9h-0.9zM95.98 127.14h0.9v0.9h-0.9zM102.71 112h0.9v0.9h-0.9zM86.22 104.7h0.9v0.9h-0.9zM102.16 126.23h0.9v0.9h-0.9zM101.31 108.39h0.9v0.9h-0.9zM102.48 118.24h0.9v0.9h-0.9zM82.87 122.22h0.9v0.9h-0.9zM88.02 108.42h0.9v0.9h-0.9zM86.55 142.49h0.9v0.9h-0.9zM91.98 103.05h0.9v0.9h-0.9zM103.68 129.23h0.9v0.9h-0.9zM111.84 120.36h0.9v0.9h-0.9zM88.99 136.23h0.9v0.9h-0.9zM87.35 128.45h0.9v0.9h-0.9zM98.02 129.61h0.9v0.9h-0.9zM102.66 101.57h0.9v0.9h-0.9zM103.91 144.41h0.9v0.9h-0.9zM96.17 137.35h0.9v0.9h-0.9zM89.06 130.35h0.9v0.9h-0.9zM93.82 136.5h0.9v0.9h-0.9zM85.43 118.28h0.9v0.9h-0.9zM97.98 144.15h0.9v0.9h-0.9zM92.05 106.08h0.9v0.9h-0.9zM111.86 130.37h0.9v0.9h-0.9zM104.86 139.64h0.9v0.9h-0.9zM96.58 129.25h0.9v0.9h-0.9zM89.02 130.88h0.9v0.9h-0.9zM84.85 130.19h0.9v0.9h-0.9zM82.01 107.17h0.9v0.9h-0.9zM106.49 105.87h0.9v0.9h-0.9zM103.27 125.05h0.9v0.9h-0.9zM94.92 110.68h0.9v0.9h-0.9zM111.53 129.63h0.9v0.9h-0.9zM99.71 137.13h0.9v0.9h-0.9zM95.33 144.7h0.9v0.9h-0.9zM100.92 127.1h0.9v0.9h-0.9zM97.64 140.86h0.9v0.9h-0.9zM95.61 127.91h0.9v0.9h-0.9zM82.54 121.98h0.9v0.9h-0.9zM91.78 138.33h0.9v0.9h-0.9zM88 107.38h0.9v0.9h-0.9zM97.45 106.28h0.9v0.9h-0.9zM86.48 124.45h0.9v0.9h-0.9zM104.78 105.11h0.9v0.9h-0.9zM112.31 100.57h0.9v0.9h-0.9zM83.3 138.01h0.9v0.9h-0.9zM89.66 140.93h0.9v0.9h-0.9zM98.87 133.16h0.9v0.9h-0.9zM83.06 101.96h0.9v0.9h-0.9zM82.39 128.81h0.9v0.9h-0.9zM94.8 132.79h0.9v0.9h-0.9zM102.49 127.99h0.9v0.9h-0.9zM89.01 111.57h0.9v0.9h-0.9zM104.39 106.47h0.9v0.9h-0.9zM102.35 134.26h0.9v0.9h-0.9zM106.59 115.07h0.9v0.9h-0.9zM86.92 118.71h0.9v0.9h-0.9zM84.71 142.3h0.9v0.9h-0.9zM91.32 100.97h0.9v0.9h-0.9zM94.75 137.19h0.9v0.9h-0.9zM97.1 130h0.9v0.9h-0.9zM92.89 108.71h0.9v0.9h-0.9zM101.88 101.98h0.9v0.9h-0.9zM96.71 103.91h0.9v0.9h-0.9zM95.38 113.31h0.9v0.9h-0.9zM89.3 109.9h0.9v0.9h-0.9zM89.37 107.1h0.9v0.9h-0.9zM99.34 136.89h0.9v0.9h-0.9zM82.09 134.83h0.9v0.9h-0.9zM90.55 100.11h0.9v0.9h-0.9zM85.64 111.4h0.9v0.9h-0.9zM82.7 110.54h0.9v0.9h-0.9zM84.93 105.95h0.9v0.9h-0.9zM82.48 113.29h0.9v0.9h-0.9zM89.64 123.05h0.9v0.9h-0.9zM81.18 133.03h0.9v0.9h-0.9zM81.73 140.5h0.9v0.9h-0.9zM84.39 143.73h0.9v0.9h-0.9zM104.35 109.51h0.9v0.9h-0.9zM106.97 132.4h0.9v0.9h-0.9zM81.87 126.06h0.9v0.9h-0.9zM93.49 139.47h0.9v0.9h-0.9zM85.01 131.74h0.9v0.9h-0.9zM101.84 143.38h0.9v0.9h-0.9zM104.91 102.35h0.9v0.9h-0.9zM91.82 119.44h0.9v0.9h-0.9zM84.89 131.38h0.9v0.9h-0.9zM90.03 126.54h0.9v0.9h-0.9zM92.9 136.79h0.9v0.9h-0.9zM94.65 107.43h0.9v0.9h-0.9zM101.08 131.48h0.9v0.9h-0.9zM91.73 112.28h0.9v0.9h-0.9zM110.91 127.03h0.9v0.9h-0.9zM105.03 133.39h0.9v0.9h-0.9zM95.69 123.7h0.9v0.9h-0.9zM94.38 118.69h0.9v0.9h-0.9zM86.53 108.84h0.9v0.9h-0.9zM98.31 140.11h0.9v0.9h-0.9zM97.15 137.79h0.9v0.9h-0.9zM93.8 123.39h0.9v0.9h-0.9zM80.79 103.51h0.9v0.9h-0.9zM101.46 131.66h0.9v0.9h-0.9zM92.16 115.4h0.9v0.9h-0.9zM110.31 117.04h0.9v0.9h-0.9zM88.35 122.35h0.9v0.9h-0.9zM92.78 104.61h0.9v0.9h-0.9zM100.33 114.79h0.9v0.9h-0.9zM91.56 102.44h0.9v0.9h-0.9zM97.1 131.29h0.9v0.9h-0.9zM94.79 140.95h0.9v0.9h-0.9zM97.26 109.5h0.9v0.9h-0.9zM94.59 121.68h0.9v0.9h-0.9zM89.68 110.8h0.9v0.9h-0.9zM111.49 143.26h0.9v0.9h-0.9zM87.87 141.35h0.9v0.9h-0.9zM102.68 136.09h0.9v0.9h-0.9zM98.92 132.32h0.9v0.9h-0.9zM102.16 113.46h0.9v0.9h-0.9zM88.95 144.18h0.9v0.9h-0.9zM81.28 108.37h0.9v0.9h-0.9zM99.72 145h0.9v0.9h-0.9zM83.26 136.64h0.9v0.9h-0.9zM108.5 143.36h0.9v0.9h-0.9zM107.39 137.29h0.9v0.9h-0.9zM92.72 128.12h0.9v0.9h-0.9zM109.02 131.67h0.9v0.9h-0.9zM86.42 114.33h0.9v0.9h-0.9zM81.82 129.94h0.9v0.9h-0.9zM87.83 112.49h0.9v0.9h-0.9zM107.46 143.07h0.9v0.9h-0.9zM83.8 138.99h0.9v0.9h-0.9zM114.97 132.5h0.9v0.9h-0.9zM94.14 109.82h0.9v0.9h-0.9zM91.28 139.17h0.9v0.9h-0.9zM87.68 145.49h0.9v0.9h-0.9zM95.01 139.75h0.9v0.9h-0.9zM83.93 106.94h0.9v0.9h-0.9zM92.14 131.9h0.9v0.9h-0.9zM107.19 112.85h0.9v0.9h-0.9zM105.56 111.54h0.9v0.9h-0.9zM97.93 122.47h0.9v0.9h-0.9zM106.67 119.7h0.9v0.9h-0.9zM103.03 105.73h0.9v0.9h-0.9zM103.18 142.73h0.9v0.9h-0.9zM88.45 144.01h0.9v0.9h-0.9zM88.93 116.63h0.9v0.9h-0.9zM89.68 101.45h0.9v0.9h-0.9zM81.09 123.52h0.9v0.9h-0.9zM85.85 119.77h0.9v0.9h-0.9zM86.24 109.01h0.9v0.9h-0.9zM87.09 106.76h0.9v0.9h-0.9zM115.64 140.81h0.9v0.9h-0.9zM102.03 118.59h0.9v0.9h-0.9zM90 129.52h0.9v0.9h-0.9zM98.27 114.11h0.9v0.9h-0.9zM102.39 143.22h0.9v0.9h-0.9zM82.24 116.85h0.9v0.9h-0.9zM96.78 102.58h0.9v0.9h-0.9zM89.08 115.82h0.9v0.9h-0.9zM105.69 132.66h0.9v0.9h-0.9zM86.04 137.37h0.9v0.9h-0.9zM83.42 130.66h0.9v0.9h-0.9zM104.81 127.95h0.9v0.9h-0.9zM106.16 106.23h0.9v0.9h-0.9zM83.78 104h0.9v0.9h-0.9zM96.54 109.28h0.9v0.9h-0.9zM91.47 124.45h0.9v0.9h-0.9zM87.5 145.21h0.9v0.9h-0.9zM86.42 103.61h0.9v0.9h-0.9zM106.83 102.12h0.9v0.9h-0.9zM93.88 133.09h0.9v0.9h-0.9zM107.55 143.59h0.9v0.9h-0.9zM95.69 133.66h0.9v0.9h-0.9zM112.25 145.33h0.9v0.9h-0.9zM98.19 106.48h0.9v0.9h-0.9zM95.31 144.24h0.9v0.9h-0.9zM94.9 130.18h0.9v0.9h-0.9zM93.62 141.9h0.9v0.9h-0.9zM87.08 122.41h0.9v0.9h-0.9zM103.79 126.93h0.9v0.9h-0.9zM107.61 144.6h0.9v0.9h-0.9zM102.63 135.08h0.9v0.9h-0.9zM82.28 136.96h0.9v0.9h-0.9zM108.64 136.37h0.9v0.9h-0.9zM101.39 139.35h0.9v0.9h-0.9zM86.79 125.08h0.9v0.9h-0.9zM95.03 103.09h0.9v0.9h-0.9zM83.28 140.42h0.9v0.9h-0.9zM107 126.9h0.9v0.9h-0.9zM92.88 110.83h0.9v0.9h-0.9zM90.99 124.65h0.9v0.9h-0.9zM85.1 131.64h0.9v0.9h-0.9zM107.46 140.99h0.9v0.9h-0.9zM91.83 101.47h0.9v0.9h-0.9zM100.9 128.34h0.9v0.9h-0.9zM96.09 118.48h0.9v0.9h-0.9zM87.68 124.69h0.9v0.9h-0.9zM81.61 140.07h0.9v0.9h-0.9zM98.37 109.75h0.9v0.9h-0.9zM95.79 126.36h0.9v0.9h-0.9zM96.52 114.93h0.9v0.9h-0.9zM91.61 135.95h0.9v0.9h-0.9zM84.96 126.05h0.9v0.9h-0.9zM88.13 145.04h0.9v0.9h-0.9zM98.24 136.7h0.9v0.9h-0.9zM91.92 105.72h0.9v0.9h-0.9zM87.74 134.3h0.9v0.9h-0.9zM88.83 135.3h0.9v0.9h-0.9zM98.55 144.13h0.9v0.9h-0.9zM81.25 120.92h0.9v0.9h-0.9zM86.68 117.31h0.9v0.9h-0.9zM82.52 132.3h0.9v0.9h-0.9zM88.91 119.65h0.9v0.9h-0.9zM89.43 100h0.9v0.9h-0.9zM101.05 131.85h0.9v0.9h-0.9zM104.68 116h0.9v0.9h-0.9zM92.31 103.5h0.9v0.9h-0.9zM81.46 124.71h0.9v0.9h-0.9zM90.41 141.11h0.9v0.9h-0.9zM91.93 110.12h0.9v0.9h-0.9zM94.51 139.18h0.9v0.9h-0.9zM85.31 120.6h0.9v0.9h-0.9zM86.3 123.7h0.9v0.9h-0.9zM88.59 108.01h0.9v0.9h-0.9zM97.25 121.81h0.9v0.9h-0.9zM85.87 100.34h0.9v0.9h-0.9zM110.33 131.91h0.9v0.9h-0.9zM92.96 113.87h0.9v0.9h-0.9zM96.02 132.44h0.9v0.9h-0.9zM82.15 110.09h0.9v0.9h-0.9zM97.31 139.66h0.9v0.9h-0.9zM86.04 127.77h0.9v0.9h-0.9zM84.05 103.43h0.9v0.9h-0.9zM103.97 118.36h0.9v0.9h-0.9zM96.12 107.65h0.9v0.9h-0.9zM82.12 109.2h0.9v0.9h-0.9zM102.83 128.21h0.9v0.9h-0.9zM99.84 126.07h0.9v0.9h-0.9zM83.36 133.03h0.9v0.9h-0.9zM94.99 105.49h0.9v0.9h-0.9zM103.72 136.93h0.9v0.9h-0.9zM84.73 118.14h0.9v0.9h-0.9zM84.29 136.65h0.9v0.9h-0.9zM95.16 101.71h0.9v0.9h-0.9zM105.68 136.09h0.9v0.9h-0.9z" fill="#b8b8b8" opacity="1.0"/>
<line x1="79.5" y1="1.5" x2="79.5" y2="146.3" stroke="#2a2a2a" stroke-width="0.95" />
<line x1="35.5" y1="99.5" x2="177" y2="99.5" stroke="#2a2a2a" stroke-width="0.95" />
<rect x="35.5" y="1.5" width="144.5" height="144.8" fill="none" stroke="#1a1a1a" stroke-width="1.3"/>
<line x1="35.5" y1="146.3" x2="35.5" y2="152.5" stroke="#1a1a1a" stroke-width="1.1" />
<line x1="46.37" y1="146.3" x2="46.37" y2="149.9" stroke="#1a1a1a" stroke-width="1.0" />
<line x1="52.74" y1="146.3" x2="52.74" y2="149.9" stroke="#1a1a1a" stroke-width="1.0" />
<line x1="57.25" y1="146.3" x2="57.25" y2="149.9" stroke="#1a1a1a" stroke-width="1.0" />
<line x1="60.75" y1="146.3" x2="60.75" y2="149.9" stroke="#1a1a1a" stroke-width="1.0" />
<line x1="63.61" y1="146.3" x2="63.61" y2="149.9" stroke="#1a1a1a" stroke-width="1.0" />
<line x1="66.03" y1="146.3" x2="66.03" y2="149.9" stroke="#1a1a1a" stroke-width="1.0" />
<line x1="68.12" y1="146.3" x2="68.12" y2="149.9" stroke="#1a1a1a" stroke-width="1.0" />
<line x1="69.97" y1="146.3" x2="69.97" y2="149.9" stroke="#1a1a1a" stroke-width="1.0" />
<line x1="71.62" y1="146.3" x2="71.62" y2="152.5" stroke="#1a1a1a" stroke-width="1.1" />
<line x1="82.5" y1="146.3" x2="82.5" y2="149.9" stroke="#1a1a1a" stroke-width="1.0" />
<line x1="88.86" y1="146.3" x2="88.86" y2="149.9" stroke="#1a1a1a" stroke-width="1.0" />
<line x1="93.37" y1="146.3" x2="93.37" y2="149.9" stroke="#1a1a1a" stroke-width="1.0" />
<line x1="96.88" y1="146.3" x2="96.88" y2="149.9" stroke="#1a1a1a" stroke-width="1.0" />
<line x1="99.74" y1="146.3" x2="99.74" y2="149.9" stroke="#1a1a1a" stroke-width="1.0" />
<line x1="102.15" y1="146.3" x2="102.15" y2="149.9" stroke="#1a1a1a" stroke-width="1.0" />
<line x1="104.25" y1="146.3" x2="104.25" y2="149.9" stroke="#1a1a1a" stroke-width="1.0" />
<line x1="106.1" y1="146.3" x2="106.1" y2="149.9" stroke="#1a1a1a" stroke-width="1.0" />
<line x1="107.75" y1="146.3" x2="107.75" y2="152.5" stroke="#1a1a1a" stroke-width="1.1" />
<line x1="118.62" y1="146.3" x2="118.62" y2="149.9" stroke="#1a1a1a" stroke-width="1.0" />
<line x1="124.99" y1="146.3" x2="124.99" y2="149.9" stroke="#1a1a1a" stroke-width="1.0" />
<line x1="129.5" y1="146.3" x2="129.5" y2="149.9" stroke="#1a1a1a" stroke-width="1.0" />
<line x1="133" y1="146.3" x2="133" y2="149.9" stroke="#1a1a1a" stroke-width="1.0" />
<line x1="135.86" y1="146.3" x2="135.86" y2="149.9" stroke="#1a1a1a" stroke-width="1.0" />
<line x1="138.28" y1="146.3" x2="138.28" y2="149.9" stroke="#1a1a1a" stroke-width="1.0" />
<line x1="140.37" y1="146.3" x2="140.37" y2="149.9" stroke="#1a1a1a" stroke-width="1.0" />
<line x1="142.22" y1="146.3" x2="142.22" y2="149.9" stroke="#1a1a1a" stroke-width="1.0" />
<line x1="143.88" y1="146.3" x2="143.88" y2="152.5" stroke="#1a1a1a" stroke-width="1.1" />
<line x1="154.75" y1="146.3" x2="154.75" y2="149.9" stroke="#1a1a1a" stroke-width="1.0" />
<line x1="161.11" y1="146.3" x2="161.11" y2="149.9" stroke="#1a1a1a" stroke-width="1.0" />
<line x1="165.62" y1="146.3" x2="165.62" y2="149.9" stroke="#1a1a1a" stroke-width="1.0" />
<line x1="169.13" y1="146.3" x2="169.13" y2="149.9" stroke="#1a1a1a" stroke-width="1.0" />
<line x1="171.99" y1="146.3" x2="171.99" y2="149.9" stroke="#1a1a1a" stroke-width="1.0" />
<line x1="174.4" y1="146.3" x2="174.4" y2="149.9" stroke="#1a1a1a" stroke-width="1.0" />
<line x1="176.5" y1="146.3" x2="176.5" y2="149.9" stroke="#1a1a1a" stroke-width="1.0" />
<line x1="178.35" y1="146.3" x2="178.35" y2="149.9" stroke="#1a1a1a" stroke-width="1.0" />
<line x1="180" y1="146.3" x2="180" y2="152.5" stroke="#1a1a1a" stroke-width="1.1" />
<line x1="29" y1="146.3" x2="35.5" y2="146.3" stroke="#1a1a1a" stroke-width="1.1" />
<line x1="31.9" y1="135.4" x2="35.5" y2="135.4" stroke="#1a1a1a" stroke-width="1.0" />
<line x1="31.9" y1="129.03" x2="35.5" y2="129.03" stroke="#1a1a1a" stroke-width="1.0" />
<line x1="31.9" y1="124.51" x2="35.5" y2="124.51" stroke="#1a1a1a" stroke-width="1.0" />
<line x1="31.9" y1="121" x2="35.5" y2="121" stroke="#1a1a1a" stroke-width="1.0" />
<line x1="31.9" y1="118.13" x2="35.5" y2="118.13" stroke="#1a1a1a" stroke-width="1.0" />
<line x1="31.9" y1="115.71" x2="35.5" y2="115.71" stroke="#1a1a1a" stroke-width="1.0" />
<line x1="31.9" y1="113.61" x2="35.5" y2="113.61" stroke="#1a1a1a" stroke-width="1.0" />
<line x1="31.9" y1="111.76" x2="35.5" y2="111.76" stroke="#1a1a1a" stroke-width="1.0" />
<line x1="29" y1="110.1" x2="35.5" y2="110.1" stroke="#1a1a1a" stroke-width="1.1" />
<line x1="31.9" y1="99.2" x2="35.5" y2="99.2" stroke="#1a1a1a" stroke-width="1.0" />
<line x1="31.9" y1="92.83" x2="35.5" y2="92.83" stroke="#1a1a1a" stroke-width="1.0" />
<line x1="31.9" y1="88.31" x2="35.5" y2="88.31" stroke="#1a1a1a" stroke-width="1.0" />
<line x1="31.9" y1="84.8" x2="35.5" y2="84.8" stroke="#1a1a1a" stroke-width="1.0" />
<line x1="31.9" y1="81.93" x2="35.5" y2="81.93" stroke="#1a1a1a" stroke-width="1.0" />
<line x1="31.9" y1="79.51" x2="35.5" y2="79.51" stroke="#1a1a1a" stroke-width="1.0" />
<line x1="31.9" y1="77.41" x2="35.5" y2="77.41" stroke="#1a1a1a" stroke-width="1.0" />
<line x1="31.9" y1="75.56" x2="35.5" y2="75.56" stroke="#1a1a1a" stroke-width="1.0" />
<line x1="29" y1="73.9" x2="35.5" y2="73.9" stroke="#1a1a1a" stroke-width="1.1" />
<line x1="31.9" y1="63" x2="35.5" y2="63" stroke="#1a1a1a" stroke-width="1.0" />
<line x1="31.9" y1="56.63" x2="35.5" y2="56.63" stroke="#1a1a1a" stroke-width="1.0" />
<line x1="31.9" y1="52.11" x2="35.5" y2="52.11" stroke="#1a1a1a" stroke-width="1.0" />
<line x1="31.9" y1="48.6" x2="35.5" y2="48.6" stroke="#1a1a1a" stroke-width="1.0" />
<line x1="31.9" y1="45.73" x2="35.5" y2="45.73" stroke="#1a1a1a" stroke-width="1.0" />
<line x1="31.9" y1="43.31" x2="35.5" y2="43.31" stroke="#1a1a1a" stroke-width="1.0" />
<line x1="31.9" y1="41.21" x2="35.5" y2="41.21" stroke="#1a1a1a" stroke-width="1.0" />
<line x1="31.9" y1="39.36" x2="35.5" y2="39.36" stroke="#1a1a1a" stroke-width="1.0" />
<line x1="29" y1="37.7" x2="35.5" y2="37.7" stroke="#1a1a1a" stroke-width="1.1" />
<line x1="31.9" y1="26.8" x2="35.5" y2="26.8" stroke="#1a1a1a" stroke-width="1.0" />
<line x1="31.9" y1="20.43" x2="35.5" y2="20.43" stroke="#1a1a1a" stroke-width="1.0" />
<line x1="31.9" y1="15.91" x2="35.5" y2="15.91" stroke="#1a1a1a" stroke-width="1.0" />
<line x1="31.9" y1="12.4" x2="35.5" y2="12.4" stroke="#1a1a1a" stroke-width="1.0" />
<line x1="31.9" y1="9.53" x2="35.5" y2="9.53" stroke="#1a1a1a" stroke-width="1.0" />
<line x1="31.9" y1="7.11" x2="35.5" y2="7.11" stroke="#1a1a1a" stroke-width="1.0" />
<line x1="31.9" y1="5.01" x2="35.5" y2="5.01" stroke="#1a1a1a" stroke-width="1.0" />
<line x1="31.9" y1="3.16" x2="35.5" y2="3.16" stroke="#1a1a1a" stroke-width="1.0" />
<line x1="29" y1="1.5" x2="35.5" y2="1.5" stroke="#1a1a1a" stroke-width="1.1" />
<text x="40.6" y="16.2" font-size="12.5" font-weight="bold" text-anchor="start" fill="#1a1a1a" stroke="#1a1a1a" stroke-width="0.35">A</text>
<path d="M217.8 108.1h1.4v1.4h-1.4zM206.2 121.2h1.4v1.4h-1.4zM225.5 128.1h1.4v1.4h-1.4zM226.2 137.1h1.4v1.4h-1.4zM232.3 115.8h1.4v1.4h-1.4zM252.3 102.8h1.4v1.4h-1.4zM244.7 108.9h1.4v1.4h-1.4zM245.5 112.8h1.4v1.4h-1.4zM254.7 112h1.4v1.4h-1.4zM257 115.1h1.4v1.4h-1.4zM265.5 115.1h1.4v1.4h-1.4zM270.8 115.1h1.4v1.4h-1.4zM277.8 114.3h1.4v1.4h-1.4zM242.3 117.3h1.4v1.4h-1.4zM259.3 118.1h1.4v1.4h-1.4zM251.6 119.7h1.4v1.4h-1.4zM266.2 119.7h1.4v1.4h-1.4zM237.8 122.8h1.4v1.4h-1.4zM252.3 124.3h1.4v1.4h-1.4zM240.1 130.5h1.4v1.4h-1.4zM245.5 129.7h1.4v1.4h-1.4zM251.6 132h1.4v1.4h-1.4zM259.3 130.5h1.4v1.4h-1.4zM253.9 132h1.4v1.4h-1.4zM244.7 135.8h1.4v1.4h-1.4zM273.1 128.1h1.4v1.4h-1.4zM275.5 127.3h1.4v1.4h-1.4zM258.5 142.8h1.4v1.4h-1.4zM285.5 105.1h1.4v1.4h-1.4zM278.5 114h1.4v1.4h-1.4zM287.8 118.1h1.4v1.4h-1.4zM287.8 125.8h1.4v1.4h-1.4zM275.5 127.3h1.4v1.4h-1.4zM270.8 114.3h1.4v1.4h-1.4zM235.8 139.3h1.4v1.4h-1.4zM248.3 141.3h1.4v1.4h-1.4z" fill="#c2c2c2"/>
<rect x="235.5" y="96.6" width="82" height="49.9" fill="none" stroke="#505050" stroke-width="0.95"/>
<rect x="204.4" y="2.1" width="143.9" height="144.4" fill="none" stroke="#1a1a1a" stroke-width="1.3"/>
<line x1="204.4" y1="146.5" x2="204.4" y2="152.7" stroke="#1a1a1a" stroke-width="1.1" />
<line x1="215.23" y1="146.5" x2="215.23" y2="150.1" stroke="#1a1a1a" stroke-width="1.0" />
<line x1="221.56" y1="146.5" x2="221.56" y2="150.1" stroke="#1a1a1a" stroke-width="1.0" />
<line x1="226.06" y1="146.5" x2="226.06" y2="150.1" stroke="#1a1a1a" stroke-width="1.0" />
<line x1="229.55" y1="146.5" x2="229.55" y2="150.1" stroke="#1a1a1a" stroke-width="1.0" />
<line x1="232.39" y1="146.5" x2="232.39" y2="150.1" stroke="#1a1a1a" stroke-width="1.0" />
<line x1="234.8" y1="146.5" x2="234.8" y2="150.1" stroke="#1a1a1a" stroke-width="1.0" />
<line x1="236.89" y1="146.5" x2="236.89" y2="150.1" stroke="#1a1a1a" stroke-width="1.0" />
<line x1="238.73" y1="146.5" x2="238.73" y2="150.1" stroke="#1a1a1a" stroke-width="1.0" />
<line x1="240.38" y1="146.5" x2="240.38" y2="152.7" stroke="#1a1a1a" stroke-width="1.1" />
<line x1="251.2" y1="146.5" x2="251.2" y2="150.1" stroke="#1a1a1a" stroke-width="1.0" />
<line x1="257.54" y1="146.5" x2="257.54" y2="150.1" stroke="#1a1a1a" stroke-width="1.0" />
<line x1="262.03" y1="146.5" x2="262.03" y2="150.1" stroke="#1a1a1a" stroke-width="1.0" />
<line x1="265.52" y1="146.5" x2="265.52" y2="150.1" stroke="#1a1a1a" stroke-width="1.0" />
<line x1="268.37" y1="146.5" x2="268.37" y2="150.1" stroke="#1a1a1a" stroke-width="1.0" />
<line x1="270.78" y1="146.5" x2="270.78" y2="150.1" stroke="#1a1a1a" stroke-width="1.0" />
<line x1="272.86" y1="146.5" x2="272.86" y2="150.1" stroke="#1a1a1a" stroke-width="1.0" />
<line x1="274.7" y1="146.5" x2="274.7" y2="150.1" stroke="#1a1a1a" stroke-width="1.0" />
<line x1="276.35" y1="146.5" x2="276.35" y2="152.7" stroke="#1a1a1a" stroke-width="1.1" />
<line x1="287.18" y1="146.5" x2="287.18" y2="150.1" stroke="#1a1a1a" stroke-width="1.0" />
<line x1="293.51" y1="146.5" x2="293.51" y2="150.1" stroke="#1a1a1a" stroke-width="1.0" />
<line x1="298.01" y1="146.5" x2="298.01" y2="150.1" stroke="#1a1a1a" stroke-width="1.0" />
<line x1="301.5" y1="146.5" x2="301.5" y2="150.1" stroke="#1a1a1a" stroke-width="1.0" />
<line x1="304.34" y1="146.5" x2="304.34" y2="150.1" stroke="#1a1a1a" stroke-width="1.0" />
<line x1="306.75" y1="146.5" x2="306.75" y2="150.1" stroke="#1a1a1a" stroke-width="1.0" />
<line x1="308.84" y1="146.5" x2="308.84" y2="150.1" stroke="#1a1a1a" stroke-width="1.0" />
<line x1="310.68" y1="146.5" x2="310.68" y2="150.1" stroke="#1a1a1a" stroke-width="1.0" />
<line x1="312.33" y1="146.5" x2="312.33" y2="152.7" stroke="#1a1a1a" stroke-width="1.1" />
<line x1="323.15" y1="146.5" x2="323.15" y2="150.1" stroke="#1a1a1a" stroke-width="1.0" />
<line x1="329.49" y1="146.5" x2="329.49" y2="150.1" stroke="#1a1a1a" stroke-width="1.0" />
<line x1="333.98" y1="146.5" x2="333.98" y2="150.1" stroke="#1a1a1a" stroke-width="1.0" />
<line x1="337.47" y1="146.5" x2="337.47" y2="150.1" stroke="#1a1a1a" stroke-width="1.0" />
<line x1="340.32" y1="146.5" x2="340.32" y2="150.1" stroke="#1a1a1a" stroke-width="1.0" />
<line x1="342.73" y1="146.5" x2="342.73" y2="150.1" stroke="#1a1a1a" stroke-width="1.0" />
<line x1="344.81" y1="146.5" x2="344.81" y2="150.1" stroke="#1a1a1a" stroke-width="1.0" />
<line x1="346.65" y1="146.5" x2="346.65" y2="150.1" stroke="#1a1a1a" stroke-width="1.0" />
<line x1="348.3" y1="146.5" x2="348.3" y2="152.7" stroke="#1a1a1a" stroke-width="1.1" />
<line x1="197.9" y1="146.5" x2="204.4" y2="146.5" stroke="#1a1a1a" stroke-width="1.1" />
<line x1="200.8" y1="135.63" x2="204.4" y2="135.63" stroke="#1a1a1a" stroke-width="1.0" />
<line x1="200.8" y1="129.28" x2="204.4" y2="129.28" stroke="#1a1a1a" stroke-width="1.0" />
<line x1="200.8" y1="124.77" x2="204.4" y2="124.77" stroke="#1a1a1a" stroke-width="1.0" />
<line x1="200.8" y1="121.27" x2="204.4" y2="121.27" stroke="#1a1a1a" stroke-width="1.0" />
<line x1="200.8" y1="118.41" x2="204.4" y2="118.41" stroke="#1a1a1a" stroke-width="1.0" />
<line x1="200.8" y1="115.99" x2="204.4" y2="115.99" stroke="#1a1a1a" stroke-width="1.0" />
<line x1="200.8" y1="113.9" x2="204.4" y2="113.9" stroke="#1a1a1a" stroke-width="1.0" />
<line x1="200.8" y1="112.05" x2="204.4" y2="112.05" stroke="#1a1a1a" stroke-width="1.0" />
<line x1="197.9" y1="110.4" x2="204.4" y2="110.4" stroke="#1a1a1a" stroke-width="1.1" />
<line x1="200.8" y1="99.53" x2="204.4" y2="99.53" stroke="#1a1a1a" stroke-width="1.0" />
<line x1="200.8" y1="93.18" x2="204.4" y2="93.18" stroke="#1a1a1a" stroke-width="1.0" />
<line x1="200.8" y1="88.67" x2="204.4" y2="88.67" stroke="#1a1a1a" stroke-width="1.0" />
<line x1="200.8" y1="85.17" x2="204.4" y2="85.17" stroke="#1a1a1a" stroke-width="1.0" />
<line x1="200.8" y1="82.31" x2="204.4" y2="82.31" stroke="#1a1a1a" stroke-width="1.0" />
<line x1="200.8" y1="79.89" x2="204.4" y2="79.89" stroke="#1a1a1a" stroke-width="1.0" />
<line x1="200.8" y1="77.8" x2="204.4" y2="77.8" stroke="#1a1a1a" stroke-width="1.0" />
<line x1="200.8" y1="75.95" x2="204.4" y2="75.95" stroke="#1a1a1a" stroke-width="1.0" />
<line x1="197.9" y1="74.3" x2="204.4" y2="74.3" stroke="#1a1a1a" stroke-width="1.1" />
<line x1="200.8" y1="63.43" x2="204.4" y2="63.43" stroke="#1a1a1a" stroke-width="1.0" />
<line x1="200.8" y1="57.08" x2="204.4" y2="57.08" stroke="#1a1a1a" stroke-width="1.0" />
<line x1="200.8" y1="52.57" x2="204.4" y2="52.57" stroke="#1a1a1a" stroke-width="1.0" />
<line x1="200.8" y1="49.07" x2="204.4" y2="49.07" stroke="#1a1a1a" stroke-width="1.0" />
<line x1="200.8" y1="46.21" x2="204.4" y2="46.21" stroke="#1a1a1a" stroke-width="1.0" />
<line x1="200.8" y1="43.79" x2="204.4" y2="43.79" stroke="#1a1a1a" stroke-width="1.0" />
<line x1="200.8" y1="41.7" x2="204.4" y2="41.7" stroke="#1a1a1a" stroke-width="1.0" />
<line x1="200.8" y1="39.85" x2="204.4" y2="39.85" stroke="#1a1a1a" stroke-width="1.0" />
<line x1="197.9" y1="38.2" x2="204.4" y2="38.2" stroke="#1a1a1a" stroke-width="1.1" />
<line x1="200.8" y1="27.33" x2="204.4" y2="27.33" stroke="#1a1a1a" stroke-width="1.0" />
<line x1="200.8" y1="20.98" x2="204.4" y2="20.98" stroke="#1a1a1a" stroke-width="1.0" />
<line x1="200.8" y1="16.47" x2="204.4" y2="16.47" stroke="#1a1a1a" stroke-width="1.0" />
<line x1="200.8" y1="12.97" x2="204.4" y2="12.97" stroke="#1a1a1a" stroke-width="1.0" />
<line x1="200.8" y1="10.11" x2="204.4" y2="10.11" stroke="#1a1a1a" stroke-width="1.0" />
<line x1="200.8" y1="7.69" x2="204.4" y2="7.69" stroke="#1a1a1a" stroke-width="1.0" />
<line x1="200.8" y1="5.6" x2="204.4" y2="5.6" stroke="#1a1a1a" stroke-width="1.0" />
<line x1="200.8" y1="3.75" x2="204.4" y2="3.75" stroke="#1a1a1a" stroke-width="1.0" />
<line x1="197.9" y1="2.1" x2="204.4" y2="2.1" stroke="#1a1a1a" stroke-width="1.1" />
<text x="209.4" y="16.8" font-size="12.5" font-weight="bold" text-anchor="start" fill="#1a1a1a" stroke="#1a1a1a" stroke-width="0.35">B</text>
<path d="M404.4 112.4h1.2v1.2h-1.2zM411.4 115.4h1.2v1.2h-1.2zM417.4 111.4h1.2v1.2h-1.2zM424.4 116.4h1.2v1.2h-1.2zM432.4 113.4h1.2v1.2h-1.2zM439.4 117.4h1.2v1.2h-1.2zM445.4 112.4h1.2v1.2h-1.2zM408.4 118.4h1.2v1.2h-1.2zM426.9 40.2h1.2v1.2h-1.2zM431.8 41h1.2v1.2h-1.2zM439.4 40.2h1.2v1.2h-1.2zM444.4 41h1.2v1.2h-1.2zM424.4 43.5h1.2v1.2h-1.2zM431.8 46h1.2v1.2h-1.2zM441.8 44.4h1.2v1.2h-1.2zM443.4 46h1.2v1.2h-1.2zM414.4 50.2h1.2v1.2h-1.2zM469.3 56.8h1.2v1.2h-1.2zM432.7 58.5h1.2v1.2h-1.2zM434.4 59.4h1.2v1.2h-1.2zM421.9 60.2h1.2v1.2h-1.2zM424.4 64.4h1.2v1.2h-1.2zM428.5 66.8h1.2v1.2h-1.2zM431.8 63.5h1.2v1.2h-1.2zM456 64.4h1.2v1.2h-1.2zM416.9 69.4h1.2v1.2h-1.2zM421 69.4h1.2v1.2h-1.2zM426 69.4h1.2v1.2h-1.2zM429.4 69.4h1.2v1.2h-1.2zM441 70.1h1.2v1.2h-1.2zM449.4 70.1h1.2v1.2h-1.2zM429.4 74.3h1.2v1.2h-1.2zM438.5 78.4h1.2v1.2h-1.2zM443.5 76.8h1.2v1.2h-1.2zM436.75 96.02h1.2v1.2h-1.2zM418.34 88.73h1.2v1.2h-1.2zM431.91 102.99h1.2v1.2h-1.2zM432.51 76.91h1.2v1.2h-1.2zM418.6 96.06h1.2v1.2h-1.2zM438.95 82.87h1.2v1.2h-1.2zM423.49 91.26h1.2v1.2h-1.2zM429.77 82.52h1.2v1.2h-1.2zM427.78 92.78h1.2v1.2h-1.2zM447.06 77.07h1.2v1.2h-1.2zM439.14 73.77h1.2v1.2h-1.2zM437.87 85.13h1.2v1.2h-1.2zM421.45 94.44h1.2v1.2h-1.2zM438.38 80.51h1.2v1.2h-1.2zM439.86 95.81h1.2v1.2h-1.2zM446.88 92h1.2v1.2h-1.2zM412.85 103.41h1.2v1.2h-1.2zM419.78 104.13h1.2v1.2h-1.2zM428.67 91.83h1.2v1.2h-1.2zM433.24 81.59h1.2v1.2h-1.2zM428.95 83.32h1.2v1.2h-1.2zM452.33 70.06h1.2v1.2h-1.2zM428.01 74.73h1.2v1.2h-1.2zM410.43 94.64h1.2v1.2h-1.2zM437.2 90.99h1.2v1.2h-1.2zM431.14 82.57h1.2v1.2h-1.2zM449.62 66.85h1.2v1.2h-1.2zM417.76 101.45h1.2v1.2h-1.2zM416.1 100.61h1.2v1.2h-1.2zM439.26 82.21h1.2v1.2h-1.2zM432.63 87.58h1.2v1.2h-1.2zM419.89 67.69h1.2v1.2h-1.2zM413.45 99.96h1.2v1.2h-1.2zM408.46 98.37h1.2v1.2h-1.2zM430.27 100.63h1.2v1.2h-1.2zM411.69 96.51h1.2v1.2h-1.2zM430.49 93.32h1.2v1.2h-1.2zM411.51 117.79h1.2v1.2h-1.2zM418.17 106.52h1.2v1.2h-1.2zM425.45 95.64h1.2v1.2h-1.2zM447.55 83.58h1.2v1.2h-1.2zM429.37 80.49h1.2v1.2h-1.2zM420.08 82.94h1.2v1.2h-1.2zM442.97 77.14h1.2v1.2h-1.2zM437.75 76.49h1.2v1.2h-1.2zM420.98 99.46h1.2v1.2h-1.2zM432.49 83.25h1.2v1.2h-1.2zM447.08 84.15h1.2v1.2h-1.2zM429.46 78.8h1.2v1.2h-1.2zM429.44 86.52h1.2v1.2h-1.2zM426.9 98.17h1.2v1.2h-1.2zM420.98 97.35h1.2v1.2h-1.2zM437.28 87.27h1.2v1.2h-1.2zM427.04 80.36h1.2v1.2h-1.2zM426.98 113.42h1.2v1.2h-1.2zM408.27 100.82h1.2v1.2h-1.2zM435.55 86.06h1.2v1.2h-1.2zM438.65 69.27h1.2v1.2h-1.2zM439.37 74.15h1.2v1.2h-1.2zM413.25 105.15h1.2v1.2h-1.2zM433.42 80.12h1.2v1.2h-1.2zM417.98 95.13h1.2v1.2h-1.2zM427.6 88.99h1.2v1.2h-1.2zM415.63 77.74h1.2v1.2h-1.2zM443.33 81.56h1.2v1.2h-1.2zM412.9 86.25h1.2v1.2h-1.2zM419.42 92.21h1.2v1.2h-1.2zM432.73 84.15h1.2v1.2h-1.2zM431.81 89.7h1.2v1.2h-1.2zM440.29 83.36h1.2v1.2h-1.2zM442.68 94.21h1.2v1.2h-1.2zM423.9 88.85h1.2v1.2h-1.2zM417.09 95.36h1.2v1.2h-1.2zM418.96 96.27h1.2v1.2h-1.2zM431.25 92.79h1.2v1.2h-1.2zM413.82 109.29h1.2v1.2h-1.2zM423.89 91.88h1.2v1.2h-1.2zM421.46 76.6h1.2v1.2h-1.2zM430.62 72.52h1.2v1.2h-1.2zM440.78 81.97h1.2v1.2h-1.2zM446.19 83.81h1.2v1.2h-1.2zM435.96 97.35h1.2v1.2h-1.2zM427.06 104.53h1.2v1.2h-1.2zM426.03 93.74h1.2v1.2h-1.2zM419.49 100.65h1.2v1.2h-1.2zM435.55 80.58h1.2v1.2h-1.2zM412.25 100.28h1.2v1.2h-1.2zM432.58 85.64h1.2v1.2h-1.2zM415.9 91.7h1.2v1.2h-1.2zM424.36 69.01h1.2v1.2h-1.2zM420.53 107.95h1.2v1.2h-1.2zM412.21 98.66h1.2v1.2h-1.2zM447.69 83.31h1.2v1.2h-1.2zM438.52 81.76h1.2v1.2h-1.2zM431.12 90.16h1.2v1.2h-1.2zM447.12 84.59h1.2v1.2h-1.2zM428.21 80.06h1.2v1.2h-1.2zM425.67 90.31h1.2v1.2h-1.2zM419.42 88.04h1.2v1.2h-1.2zM415.55 97.32h1.2v1.2h-1.2zM420.41 98.79h1.2v1.2h-1.2z" fill="#c8c8c8"/>
<rect x="406.6" y="22.5" width="83.6" height="86.1" fill="none" stroke="#505050" stroke-width="0.95"/>
<rect x="374.6" y="2.6" width="143.1" height="144.7" fill="none" stroke="#1a1a1a" stroke-width="1.3"/>
<line x1="374.6" y1="147.3" x2="374.6" y2="153.5" stroke="#1a1a1a" stroke-width="1.1" />
<line x1="385.37" y1="147.3" x2="385.37" y2="150.9" stroke="#1a1a1a" stroke-width="1.0" />
<line x1="391.67" y1="147.3" x2="391.67" y2="150.9" stroke="#1a1a1a" stroke-width="1.0" />
<line x1="396.14" y1="147.3" x2="396.14" y2="150.9" stroke="#1a1a1a" stroke-width="1.0" />
<line x1="399.61" y1="147.3" x2="399.61" y2="150.9" stroke="#1a1a1a" stroke-width="1.0" />
<line x1="402.44" y1="147.3" x2="402.44" y2="150.9" stroke="#1a1a1a" stroke-width="1.0" />
<line x1="404.83" y1="147.3" x2="404.83" y2="150.9" stroke="#1a1a1a" stroke-width="1.0" />
<line x1="406.91" y1="147.3" x2="406.91" y2="150.9" stroke="#1a1a1a" stroke-width="1.0" />
<line x1="408.74" y1="147.3" x2="408.74" y2="150.9" stroke="#1a1a1a" stroke-width="1.0" />
<line x1="410.38" y1="147.3" x2="410.38" y2="153.5" stroke="#1a1a1a" stroke-width="1.1" />
<line x1="421.14" y1="147.3" x2="421.14" y2="150.9" stroke="#1a1a1a" stroke-width="1.0" />
<line x1="427.44" y1="147.3" x2="427.44" y2="150.9" stroke="#1a1a1a" stroke-width="1.0" />
<line x1="431.91" y1="147.3" x2="431.91" y2="150.9" stroke="#1a1a1a" stroke-width="1.0" />
<line x1="435.38" y1="147.3" x2="435.38" y2="150.9" stroke="#1a1a1a" stroke-width="1.0" />
<line x1="438.21" y1="147.3" x2="438.21" y2="150.9" stroke="#1a1a1a" stroke-width="1.0" />
<line x1="440.61" y1="147.3" x2="440.61" y2="150.9" stroke="#1a1a1a" stroke-width="1.0" />
<line x1="442.68" y1="147.3" x2="442.68" y2="150.9" stroke="#1a1a1a" stroke-width="1.0" />
<line x1="444.51" y1="147.3" x2="444.51" y2="150.9" stroke="#1a1a1a" stroke-width="1.0" />
<line x1="446.15" y1="147.3" x2="446.15" y2="153.5" stroke="#1a1a1a" stroke-width="1.1" />
<line x1="456.92" y1="147.3" x2="456.92" y2="150.9" stroke="#1a1a1a" stroke-width="1.0" />
<line x1="463.22" y1="147.3" x2="463.22" y2="150.9" stroke="#1a1a1a" stroke-width="1.0" />
<line x1="467.69" y1="147.3" x2="467.69" y2="150.9" stroke="#1a1a1a" stroke-width="1.0" />
<line x1="471.16" y1="147.3" x2="471.16" y2="150.9" stroke="#1a1a1a" stroke-width="1.0" />
<line x1="473.99" y1="147.3" x2="473.99" y2="150.9" stroke="#1a1a1a" stroke-width="1.0" />
<line x1="476.38" y1="147.3" x2="476.38" y2="150.9" stroke="#1a1a1a" stroke-width="1.0" />
<line x1="478.46" y1="147.3" x2="478.46" y2="150.9" stroke="#1a1a1a" stroke-width="1.0" />
<line x1="480.29" y1="147.3" x2="480.29" y2="150.9" stroke="#1a1a1a" stroke-width="1.0" />
<line x1="481.93" y1="147.3" x2="481.93" y2="153.5" stroke="#1a1a1a" stroke-width="1.1" />
<line x1="492.69" y1="147.3" x2="492.69" y2="150.9" stroke="#1a1a1a" stroke-width="1.0" />
<line x1="498.99" y1="147.3" x2="498.99" y2="150.9" stroke="#1a1a1a" stroke-width="1.0" />
<line x1="503.46" y1="147.3" x2="503.46" y2="150.9" stroke="#1a1a1a" stroke-width="1.0" />
<line x1="506.93" y1="147.3" x2="506.93" y2="150.9" stroke="#1a1a1a" stroke-width="1.0" />
<line x1="509.76" y1="147.3" x2="509.76" y2="150.9" stroke="#1a1a1a" stroke-width="1.0" />
<line x1="512.16" y1="147.3" x2="512.16" y2="150.9" stroke="#1a1a1a" stroke-width="1.0" />
<line x1="514.23" y1="147.3" x2="514.23" y2="150.9" stroke="#1a1a1a" stroke-width="1.0" />
<line x1="516.06" y1="147.3" x2="516.06" y2="150.9" stroke="#1a1a1a" stroke-width="1.0" />
<line x1="517.7" y1="147.3" x2="517.7" y2="153.5" stroke="#1a1a1a" stroke-width="1.1" />
<line x1="368.1" y1="147.3" x2="374.6" y2="147.3" stroke="#1a1a1a" stroke-width="1.1" />
<line x1="371" y1="136.41" x2="374.6" y2="136.41" stroke="#1a1a1a" stroke-width="1.0" />
<line x1="371" y1="130.04" x2="374.6" y2="130.04" stroke="#1a1a1a" stroke-width="1.0" />
<line x1="371" y1="125.52" x2="374.6" y2="125.52" stroke="#1a1a1a" stroke-width="1.0" />
<line x1="371" y1="122.01" x2="374.6" y2="122.01" stroke="#1a1a1a" stroke-width="1.0" />
<line x1="371" y1="119.15" x2="374.6" y2="119.15" stroke="#1a1a1a" stroke-width="1.0" />
<line x1="371" y1="116.73" x2="374.6" y2="116.73" stroke="#1a1a1a" stroke-width="1.0" />
<line x1="371" y1="114.63" x2="374.6" y2="114.63" stroke="#1a1a1a" stroke-width="1.0" />
<line x1="371" y1="112.78" x2="374.6" y2="112.78" stroke="#1a1a1a" stroke-width="1.0" />
<line x1="368.1" y1="111.12" x2="374.6" y2="111.12" stroke="#1a1a1a" stroke-width="1.1" />
<line x1="371" y1="100.24" x2="374.6" y2="100.24" stroke="#1a1a1a" stroke-width="1.0" />
<line x1="371" y1="93.87" x2="374.6" y2="93.87" stroke="#1a1a1a" stroke-width="1.0" />
<line x1="371" y1="89.35" x2="374.6" y2="89.35" stroke="#1a1a1a" stroke-width="1.0" />
<line x1="371" y1="85.84" x2="374.6" y2="85.84" stroke="#1a1a1a" stroke-width="1.0" />
<line x1="371" y1="82.98" x2="374.6" y2="82.98" stroke="#1a1a1a" stroke-width="1.0" />
<line x1="371" y1="80.55" x2="374.6" y2="80.55" stroke="#1a1a1a" stroke-width="1.0" />
<line x1="371" y1="78.46" x2="374.6" y2="78.46" stroke="#1a1a1a" stroke-width="1.0" />
<line x1="371" y1="76.61" x2="374.6" y2="76.61" stroke="#1a1a1a" stroke-width="1.0" />
<line x1="368.1" y1="74.95" x2="374.6" y2="74.95" stroke="#1a1a1a" stroke-width="1.1" />
<line x1="371" y1="64.06" x2="374.6" y2="64.06" stroke="#1a1a1a" stroke-width="1.0" />
<line x1="371" y1="57.69" x2="374.6" y2="57.69" stroke="#1a1a1a" stroke-width="1.0" />
<line x1="371" y1="53.17" x2="374.6" y2="53.17" stroke="#1a1a1a" stroke-width="1.0" />
<line x1="371" y1="49.66" x2="374.6" y2="49.66" stroke="#1a1a1a" stroke-width="1.0" />
<line x1="371" y1="46.8" x2="374.6" y2="46.8" stroke="#1a1a1a" stroke-width="1.0" />
<line x1="371" y1="44.38" x2="374.6" y2="44.38" stroke="#1a1a1a" stroke-width="1.0" />
<line x1="371" y1="42.28" x2="374.6" y2="42.28" stroke="#1a1a1a" stroke-width="1.0" />
<line x1="371" y1="40.43" x2="374.6" y2="40.43" stroke="#1a1a1a" stroke-width="1.0" />
<line x1="368.1" y1="38.78" x2="374.6" y2="38.78" stroke="#1a1a1a" stroke-width="1.1" />
<line x1="371" y1="27.89" x2="374.6" y2="27.89" stroke="#1a1a1a" stroke-width="1.0" />
<line x1="371" y1="21.52" x2="374.6" y2="21.52" stroke="#1a1a1a" stroke-width="1.0" />
<line x1="371" y1="17" x2="374.6" y2="17" stroke="#1a1a1a" stroke-width="1.0" />
<line x1="371" y1="13.49" x2="374.6" y2="13.49" stroke="#1a1a1a" stroke-width="1.0" />
<line x1="371" y1="10.63" x2="374.6" y2="10.63" stroke="#1a1a1a" stroke-width="1.0" />
<line x1="371" y1="8.2" x2="374.6" y2="8.2" stroke="#1a1a1a" stroke-width="1.0" />
<line x1="371" y1="6.11" x2="374.6" y2="6.11" stroke="#1a1a1a" stroke-width="1.0" />
<line x1="371" y1="4.26" x2="374.6" y2="4.26" stroke="#1a1a1a" stroke-width="1.0" />
<line x1="368.1" y1="2.6" x2="374.6" y2="2.6" stroke="#1a1a1a" stroke-width="1.1" />
<text x="378.2" y="16.8" font-size="12.5" font-weight="bold" text-anchor="start" fill="#1a1a1a" stroke="#1a1a1a" stroke-width="0.35">C</text>
<text x="8" y="3" font-size="1" font-weight="normal" text-anchor="start" fill="#1a1a1a" stroke="#1a1a1a" stroke-width="0.25"></text>
<text x="12.9" y="104.5" font-size="10.3" font-weight="normal" text-anchor="start" fill="#1a1a1a" stroke="#1a1a1a" stroke-width="0.25" textLength="59.7" lengthAdjust="spacingAndGlyphs" transform="rotate(-90 12.9 104.5)">Log CD59 PE</text>
<text x="241.9" y="169.2" font-size="10" font-weight="normal" text-anchor="start" fill="#1a1a1a" stroke="#1a1a1a" stroke-width="0.25" textLength="69.3" lengthAdjust="spacingAndGlyphs">Log CD34-FITC</text>
<rect x="77.5" y="203.3" width="100" height="8.9" fill="#0a0a0a"/>
<line x1="177.5" y1="207.75" x2="195.3" y2="207.75" stroke="#1a1a1a" stroke-width="0.9" />
<line x1="195.3" y1="203.9" x2="195.3" y2="212" stroke="#1a1a1a" stroke-width="1.1" />
<rect x="77.5" y="212.2" width="48" height="8.9" fill="#fff" stroke="#2a2a2a" stroke-width="0.85"/>
<line x1="125.5" y1="216.65" x2="131.6" y2="216.65" stroke="#1a1a1a" stroke-width="0.9" />
<line x1="131.6" y1="212.8" x2="131.6" y2="220.9" stroke="#1a1a1a" stroke-width="1.1" />
<rect x="77.5" y="234.4" width="131.2" height="9.6" fill="#0a0a0a"/>
<line x1="208.7" y1="239.2" x2="218.4" y2="239.2" stroke="#1a1a1a" stroke-width="0.9" />
<line x1="218.4" y1="235" x2="218.4" y2="243.8" stroke="#1a1a1a" stroke-width="1.1" />
<rect x="77.5" y="244" width="39.5" height="7.9" fill="#fff" stroke="#2a2a2a" stroke-width="0.85"/>
<line x1="117" y1="247.95" x2="125.9" y2="247.95" stroke="#1a1a1a" stroke-width="0.9" />
<line x1="125.9" y1="244.6" x2="125.9" y2="251.7" stroke="#1a1a1a" stroke-width="1.1" />
<rect x="77.5" y="266" width="156.3" height="8.9" fill="#0a0a0a"/>
<line x1="233.8" y1="270.45" x2="246.2" y2="270.45" stroke="#1a1a1a" stroke-width="0.9" />
<line x1="246.2" y1="266.6" x2="246.2" y2="274.7" stroke="#1a1a1a" stroke-width="1.1" />
<rect x="77.5" y="274.9" width="131" height="8.5" fill="#fff" stroke="#2a2a2a" stroke-width="0.85"/>
<line x1="208.5" y1="279.15" x2="217.7" y2="279.15" stroke="#1a1a1a" stroke-width="0.9" />
<line x1="217.7" y1="275.5" x2="217.7" y2="283.2" stroke="#1a1a1a" stroke-width="1.1" />
<rect x="77.5" y="296.6" width="150" height="9.3" fill="#0a0a0a"/>
<line x1="227.5" y1="301.25" x2="240.1" y2="301.25" stroke="#1a1a1a" stroke-width="0.9" />
<line x1="240.1" y1="297.2" x2="240.1" y2="305.7" stroke="#1a1a1a" stroke-width="1.1" />
<rect x="77.5" y="305.9" width="114.5" height="9.2" fill="#fff" stroke="#2a2a2a" stroke-width="0.85"/>
<line x1="192" y1="310.5" x2="200.7" y2="310.5" stroke="#1a1a1a" stroke-width="0.9" />
<line x1="200.7" y1="306.5" x2="200.7" y2="314.9" stroke="#1a1a1a" stroke-width="1.1" />
<polyline points="77.5,327.8 77.5,185.6 259.5,185.6 259.5,327.8 77.5,327.8" fill="none" stroke="#1a1a1a" stroke-width="1.3"/>
<line x1="77.8" y1="327.8" x2="77.8" y2="334.6" stroke="#1a1a1a" stroke-width="1.1" />
<line x1="116.7" y1="327.8" x2="116.7" y2="334.6" stroke="#1a1a1a" stroke-width="1.1" />
<line x1="155.6" y1="327.8" x2="155.6" y2="334.6" stroke="#1a1a1a" stroke-width="1.1" />
<line x1="194.5" y1="327.8" x2="194.5" y2="334.6" stroke="#1a1a1a" stroke-width="1.1" />
<line x1="233.4" y1="327.8" x2="233.4" y2="334.6" stroke="#1a1a1a" stroke-width="1.1" />
<text x="112.1" y="343.9" font-size="9.3" font-weight="normal" text-anchor="start" fill="#1a1a1a" stroke="#1a1a1a" stroke-width="0.25" textLength="9.2" lengthAdjust="spacingAndGlyphs">10</text>
<text x="151.1" y="343.9" font-size="9.3" font-weight="normal" text-anchor="start" fill="#1a1a1a" stroke="#1a1a1a" stroke-width="0.25" textLength="9.2" lengthAdjust="spacingAndGlyphs">20</text>
<text x="190" y="343.9" font-size="9.3" font-weight="normal" text-anchor="start" fill="#1a1a1a" stroke="#1a1a1a" stroke-width="0.25" textLength="9.2" lengthAdjust="spacingAndGlyphs">30</text>
<text x="228.9" y="343.9" font-size="9.3" font-weight="normal" text-anchor="start" fill="#1a1a1a" stroke="#1a1a1a" stroke-width="0.25" textLength="9.2" lengthAdjust="spacingAndGlyphs">40</text>
<text x="139" y="358" font-size="10.2" font-weight="normal" text-anchor="start" fill="#1a1a1a" stroke="#1a1a1a" stroke-width="0.25" textLength="66.2" lengthAdjust="spacingAndGlyphs">Colonies/plate</text>
<text x="24.4" y="196" font-size="12.5" font-weight="bold" text-anchor="start" fill="#1a1a1a" stroke="#1a1a1a" stroke-width="0.35">D</text>
<text x="31" y="215.5" font-size="9.5" fill="#1a1a1a" stroke="#1a1a1a" stroke-width="0.2" textLength="17.3" lengthAdjust="spacingAndGlyphs">CD34</text>
<text x="52.9" y="215.5" font-size="9.5" fill="#1a1a1a" stroke="#1a1a1a" stroke-width="0.2" textLength="17.8" lengthAdjust="spacingAndGlyphs">CD59</text>
<text x="49.5" y="210.7" font-size="6.0" fill="#1a1a1a" stroke="#1a1a1a" stroke-width="0.3">+</text>
<text x="71.7" y="210.7" font-size="6.0" fill="#1a1a1a" stroke="#1a1a1a" stroke-width="0.3">+</text>
<text x="31.3" y="247" font-size="9.5" fill="#1a1a1a" stroke="#1a1a1a" stroke-width="0.2" textLength="17.9" lengthAdjust="spacingAndGlyphs">CD34</text>
<text x="53.3" y="247" font-size="9.5" fill="#1a1a1a" stroke="#1a1a1a" stroke-width="0.2" textLength="17.8" lengthAdjust="spacingAndGlyphs">CD59</text>
<text x="49.9" y="242.2" font-size="6.0" fill="#1a1a1a" stroke="#1a1a1a" stroke-width="0.3">+</text>
<rect x="71.7" y="240.1" width="2.8" height="0.8" fill="#1a1a1a"/>
<text x="31" y="277.4" font-size="9.5" fill="#1a1a1a" stroke="#1a1a1a" stroke-width="0.2" textLength="17.3" lengthAdjust="spacingAndGlyphs">CD34</text>
<text x="52.9" y="277.4" font-size="9.5" fill="#1a1a1a" stroke="#1a1a1a" stroke-width="0.2" textLength="17.8" lengthAdjust="spacingAndGlyphs">CD59</text>
<text x="49.5" y="272.6" font-size="6.0" fill="#1a1a1a" stroke="#1a1a1a" stroke-width="0.3">+</text>
<text x="71.7" y="272.6" font-size="6.0" fill="#1a1a1a" stroke="#1a1a1a" stroke-width="0.3">+</text>
<text x="31.3" y="309.1" font-size="9.5" fill="#1a1a1a" stroke="#1a1a1a" stroke-width="0.2" textLength="17.9" lengthAdjust="spacingAndGlyphs">CD34</text>
<text x="53.3" y="309.1" font-size="9.5" fill="#1a1a1a" stroke="#1a1a1a" stroke-width="0.2" textLength="17.8" lengthAdjust="spacingAndGlyphs">CD59</text>
<text x="49.9" y="304.3" font-size="6.0" fill="#1a1a1a" stroke="#1a1a1a" stroke-width="0.3">+</text>
<rect x="71.7" y="302.2" width="2.8" height="0.8" fill="#1a1a1a"/>
<text x="1" y="230.4" font-size="9.9" font-weight="normal" text-anchor="start" fill="#1a1a1a" stroke="#1a1a1a" stroke-width="0.25" textLength="21.2" lengthAdjust="spacingAndGlyphs">PNH1</text>
<text x="1" y="292.6" font-size="9.9" font-weight="normal" text-anchor="start" fill="#1a1a1a" stroke="#1a1a1a" stroke-width="0.25" textLength="21.2" lengthAdjust="spacingAndGlyphs">PNH2</text>
<polyline points="28.3,208.8 24.5,208.8 24.5,246.2 28.3,246.2" fill="none" stroke="#333" stroke-width="0.9"/>
<polyline points="28.3,271 24.5,271 24.5,308.2 28.3,308.2" fill="none" stroke="#333" stroke-width="0.9"/>
<rect x="294.9" y="186" width="221.6" height="142.2" fill="none" stroke="#1a1a1a" stroke-width="1.3"/>
<line x1="294.9" y1="328.2" x2="294.9" y2="334.4" stroke="#1a1a1a" stroke-width="1.1" />
<line x1="316.66" y1="328.2" x2="316.66" y2="331.8" stroke="#1a1a1a" stroke-width="1.0" />
<line x1="329.4" y1="328.2" x2="329.4" y2="331.8" stroke="#1a1a1a" stroke-width="1.0" />
<line x1="338.43" y1="328.2" x2="338.43" y2="331.8" stroke="#1a1a1a" stroke-width="1.0" />
<line x1="345.44" y1="328.2" x2="345.44" y2="331.8" stroke="#1a1a1a" stroke-width="1.0" />
<line x1="351.16" y1="328.2" x2="351.16" y2="331.8" stroke="#1a1a1a" stroke-width="1.0" />
<line x1="356" y1="328.2" x2="356" y2="331.8" stroke="#1a1a1a" stroke-width="1.0" />
<line x1="360.19" y1="328.2" x2="360.19" y2="331.8" stroke="#1a1a1a" stroke-width="1.0" />
<line x1="363.89" y1="328.2" x2="363.89" y2="331.8" stroke="#1a1a1a" stroke-width="1.0" />
<line x1="367.2" y1="328.2" x2="367.2" y2="334.4" stroke="#1a1a1a" stroke-width="1.1" />
<line x1="388.96" y1="328.2" x2="388.96" y2="331.8" stroke="#1a1a1a" stroke-width="1.0" />
<line x1="401.7" y1="328.2" x2="401.7" y2="331.8" stroke="#1a1a1a" stroke-width="1.0" />
<line x1="410.73" y1="328.2" x2="410.73" y2="331.8" stroke="#1a1a1a" stroke-width="1.0" />
<line x1="417.74" y1="328.2" x2="417.74" y2="331.8" stroke="#1a1a1a" stroke-width="1.0" />
<line x1="423.46" y1="328.2" x2="423.46" y2="331.8" stroke="#1a1a1a" stroke-width="1.0" />
<line x1="428.3" y1="328.2" x2="428.3" y2="331.8" stroke="#1a1a1a" stroke-width="1.0" />
<line x1="432.49" y1="328.2" x2="432.49" y2="331.8" stroke="#1a1a1a" stroke-width="1.0" />
<line x1="436.19" y1="328.2" x2="436.19" y2="331.8" stroke="#1a1a1a" stroke-width="1.0" />
<line x1="439.5" y1="328.2" x2="439.5" y2="334.4" stroke="#1a1a1a" stroke-width="1.1" />
<line x1="461.26" y1="328.2" x2="461.26" y2="331.8" stroke="#1a1a1a" stroke-width="1.0" />
<line x1="474" y1="328.2" x2="474" y2="331.8" stroke="#1a1a1a" stroke-width="1.0" />
<line x1="483.03" y1="328.2" x2="483.03" y2="331.8" stroke="#1a1a1a" stroke-width="1.0" />
<line x1="490.04" y1="328.2" x2="490.04" y2="331.8" stroke="#1a1a1a" stroke-width="1.0" />
<line x1="495.76" y1="328.2" x2="495.76" y2="331.8" stroke="#1a1a1a" stroke-width="1.0" />
<line x1="500.6" y1="328.2" x2="500.6" y2="331.8" stroke="#1a1a1a" stroke-width="1.0" />
<line x1="504.79" y1="328.2" x2="504.79" y2="331.8" stroke="#1a1a1a" stroke-width="1.0" />
<line x1="508.49" y1="328.2" x2="508.49" y2="331.8" stroke="#1a1a1a" stroke-width="1.0" />
<line x1="511.8" y1="328.2" x2="511.8" y2="334.4" stroke="#1a1a1a" stroke-width="1.1" />
<line x1="288.6" y1="328.2" x2="294.9" y2="328.2" stroke="#1a1a1a" stroke-width="1.1" />
<line x1="291.3" y1="317.5" x2="294.9" y2="317.5" stroke="#1a1a1a" stroke-width="1.0" />
<line x1="291.3" y1="311.24" x2="294.9" y2="311.24" stroke="#1a1a1a" stroke-width="1.0" />
<line x1="291.3" y1="306.8" x2="294.9" y2="306.8" stroke="#1a1a1a" stroke-width="1.0" />
<line x1="291.3" y1="303.35" x2="294.9" y2="303.35" stroke="#1a1a1a" stroke-width="1.0" />
<line x1="291.3" y1="300.54" x2="294.9" y2="300.54" stroke="#1a1a1a" stroke-width="1.0" />
<line x1="291.3" y1="298.16" x2="294.9" y2="298.16" stroke="#1a1a1a" stroke-width="1.0" />
<line x1="291.3" y1="296.1" x2="294.9" y2="296.1" stroke="#1a1a1a" stroke-width="1.0" />
<line x1="291.3" y1="294.28" x2="294.9" y2="294.28" stroke="#1a1a1a" stroke-width="1.0" />
<line x1="288.6" y1="292.65" x2="294.9" y2="292.65" stroke="#1a1a1a" stroke-width="1.1" />
<line x1="291.3" y1="281.95" x2="294.9" y2="281.95" stroke="#1a1a1a" stroke-width="1.0" />
<line x1="291.3" y1="275.69" x2="294.9" y2="275.69" stroke="#1a1a1a" stroke-width="1.0" />
<line x1="291.3" y1="271.25" x2="294.9" y2="271.25" stroke="#1a1a1a" stroke-width="1.0" />
<line x1="291.3" y1="267.8" x2="294.9" y2="267.8" stroke="#1a1a1a" stroke-width="1.0" />
<line x1="291.3" y1="264.99" x2="294.9" y2="264.99" stroke="#1a1a1a" stroke-width="1.0" />
<line x1="291.3" y1="262.61" x2="294.9" y2="262.61" stroke="#1a1a1a" stroke-width="1.0" />
<line x1="291.3" y1="260.55" x2="294.9" y2="260.55" stroke="#1a1a1a" stroke-width="1.0" />
<line x1="291.3" y1="258.73" x2="294.9" y2="258.73" stroke="#1a1a1a" stroke-width="1.0" />
<line x1="288.6" y1="257.1" x2="294.9" y2="257.1" stroke="#1a1a1a" stroke-width="1.1" />
<line x1="291.3" y1="246.4" x2="294.9" y2="246.4" stroke="#1a1a1a" stroke-width="1.0" />
<line x1="291.3" y1="240.14" x2="294.9" y2="240.14" stroke="#1a1a1a" stroke-width="1.0" />
<line x1="291.3" y1="235.7" x2="294.9" y2="235.7" stroke="#1a1a1a" stroke-width="1.0" />
<line x1="291.3" y1="232.25" x2="294.9" y2="232.25" stroke="#1a1a1a" stroke-width="1.0" />
<line x1="291.3" y1="229.44" x2="294.9" y2="229.44" stroke="#1a1a1a" stroke-width="1.0" />
<line x1="291.3" y1="227.06" x2="294.9" y2="227.06" stroke="#1a1a1a" stroke-width="1.0" />
<line x1="291.3" y1="225" x2="294.9" y2="225" stroke="#1a1a1a" stroke-width="1.0" />
<line x1="291.3" y1="223.18" x2="294.9" y2="223.18" stroke="#1a1a1a" stroke-width="1.0" />
<line x1="288.6" y1="221.55" x2="294.9" y2="221.55" stroke="#1a1a1a" stroke-width="1.1" />
<line x1="291.3" y1="210.85" x2="294.9" y2="210.85" stroke="#1a1a1a" stroke-width="1.0" />
<line x1="291.3" y1="204.59" x2="294.9" y2="204.59" stroke="#1a1a1a" stroke-width="1.0" />
<line x1="291.3" y1="200.15" x2="294.9" y2="200.15" stroke="#1a1a1a" stroke-width="1.0" />
<line x1="291.3" y1="196.7" x2="294.9" y2="196.7" stroke="#1a1a1a" stroke-width="1.0" />
<line x1="291.3" y1="193.89" x2="294.9" y2="193.89" stroke="#1a1a1a" stroke-width="1.0" />
<line x1="291.3" y1="191.51" x2="294.9" y2="191.51" stroke="#1a1a1a" stroke-width="1.0" />
<line x1="291.3" y1="189.45" x2="294.9" y2="189.45" stroke="#1a1a1a" stroke-width="1.0" />
<line x1="291.3" y1="187.63" x2="294.9" y2="187.63" stroke="#1a1a1a" stroke-width="1.0" />
<line x1="288.6" y1="186" x2="294.9" y2="186" stroke="#1a1a1a" stroke-width="1.1" />
<text x="299.8" y="199" font-size="12.5" font-weight="bold" text-anchor="start" fill="#1a1a1a" stroke="#1a1a1a" stroke-width="0.35">E</text>
<text x="348.5" y="218.5" font-size="9.4" fill="#1a1a1a" stroke="#1a1a1a" stroke-width="0.2" textLength="20.7" lengthAdjust="spacingAndGlyphs">CD34</text>
<text x="374.2" y="218.5" font-size="9.4" fill="#1a1a1a" stroke="#1a1a1a" stroke-width="0.2" textLength="21.2" lengthAdjust="spacingAndGlyphs">CD59</text>
<text x="369.9" y="213.9" font-size="6.0" fill="#1a1a1a" stroke="#1a1a1a" stroke-width="0.3">+</text>
<rect x="396.2" y="211.2" width="3.4" height="0.8" fill="#1a1a1a"/>
<text x="454.9" y="273.6" font-size="9.4" fill="#1a1a1a" stroke="#1a1a1a" stroke-width="0.2" textLength="20.5" lengthAdjust="spacingAndGlyphs">CD34</text>
<text x="480.8" y="273.6" font-size="9.4" fill="#1a1a1a" stroke="#1a1a1a" stroke-width="0.2" textLength="21.2" lengthAdjust="spacingAndGlyphs">CD59</text>
<text x="477.1" y="269" font-size="6.0" fill="#1a1a1a" stroke="#1a1a1a" stroke-width="0.3">+</text>
<text x="503.4" y="269" font-size="6.0" fill="#1a1a1a" stroke="#1a1a1a" stroke-width="0.3">+</text>
<line x1="460.9" y1="275.2" x2="452.3" y2="282.7" stroke="#1a1a1a" stroke-width="0.8" />
<text x="374.7" y="356.6" font-size="9.6" font-weight="normal" text-anchor="start" fill="#1a1a1a" stroke="#1a1a1a" stroke-width="0.25" textLength="59.3" lengthAdjust="spacingAndGlyphs">Log CD59 PE</text>
<polyline points="295.5,255.8 295.95,265.68 297.39,252.92 297.84,259.94 298.61,250.41 299.06,255.49 299.94,248.3 300.39,262.2 301.69,247.07 302.14,255.72 303.45,244.08 303.9,249.74 305.32,238.88 305.77,239.16 306.58,233.62 307.03,247.25 307.86,231.58 308.31,234 309.09,229.28 309.54,238.58 311.02,221.65 311.47,228.98 312.42,219.29 312.87,230.35 314.27,224.15 314.72,229.49 316.05,223.41 316.5,225.04 317.51,220.93 317.96,222.51 319.18,215.24 319.63,219.5 320.75,209 321.2,210.71 322.22,212.89 322.67,214.99 323.46,213.7 323.91,217.9 324.67,215.4 325.12,217.02 326.3,214.31 326.75,215.2 327.66,215.29 328.11,220.13 329.53,214.12 329.98,214.27 331.08,207.66 331.53,214.02 332.38,211.9 332.83,218.37 334.25,214.45 334.7,215.18 335.96,216.16 336.41,219.19 337.38,219.4 337.83,220.97 338.74,222.17 339.19,224.25 340.16,224.44 340.61,225.09 341.41,224.13 341.86,231.8 343.09,221.33 343.54,226.97 344.52,227.52 344.97,232.69 346.16,228.64 346.61,228.83 347.56,232.71 348.01,234.35 348.7,238.2 350.1,242.4 351.5,246.6" fill="none" stroke="#333" stroke-width="1.2" stroke-linejoin="round" />
<polyline points="351.5,246.6 352.9,249.3 354.2,252.8 354.9,257 356.5,261.7 358,269.4 359.5,275.4 361,278.5 362.15,278 363.3,279.2 364.45,281.44 365.6,281.5 366.75,282 367.9,284.5 369.2,286.74 370.5,288.3 371.55,288.29 372.6,290.4 373.77,291.98 374.93,291.22 376.1,292.5 377.5,293.49 378.9,293.9 380.25,292.9 381.6,294.2 383,296.14 384.4,296.6 385.8,296.31 387.2,298 388.55,299.84 389.9,299.4 391.3,299.13 392.7,300.8 394.1,303.02 395.5,302.9 396.63,302.93 397.77,305.27 398.9,304.9 400.07,304.68 401.23,307 402.4,306.3 403.45,305.55 404.5,307.34 405.55,306.97 406.6,307.7 407.62,308.68 408.65,307.57 409.68,309.94 410.7,309.8 411.9,307.65 413.1,307.74 414.3,305.16 415.5,304.6 416.55,305.93 417.6,305.41 418.65,307.52 419.7,307.4 420.75,307.11 421.8,309.57 422.85,308.07 423.9,309.5 424.92,311.16 425.95,309.49 426.98,312.26 428,311.6 429.05,310.72 430.1,311.99 431.15,310.54 432.2,311.6 433.23,313.43 434.25,311.85 435.27,314.4 436.3,314.3 437.42,313.67 438.54,315.29 439.66,314.12 440.78,316.19 441.9,315.7 443,315.48 444.1,316.55 445.2,315.51 446.3,317.97 447.4,317.1 448.45,317.14 449.5,318.77 450.55,317.54 451.6,318.5 452.6,319.65 453.6,319.56 454.6,321.77 455.6,320.6 456.6,322.4 457.64,322.87 458.68,322.02 459.71,323.27 460.75,322.33 461.79,323.92 462.82,322.58 463.86,324.91 464.9,324 465.94,323.53 466.97,325.54 468.01,324.14 469.05,325.14 470.09,324.3 471.12,325.53 472.16,325.09 473.2,325.7 474.24,326.39 475.27,325.13 476.31,326.36 477.35,325.84 478.39,327.19 479.43,325.8 480.46,327.47 481.5,326.5 482.55,325.7 483.6,327.48 484.65,326.51 485.7,327.9 486.75,326.77 487.8,327.9 488.85,327.27 489.9,328.2" fill="none" stroke="#2a2a2a" stroke-width="1.15" stroke-linejoin="round" stroke-dasharray="2.6 0.8"/>
<polyline points="294.8,256 295.1,254.9 297.3,251.6 299.5,247.1 300.65,245.38 301.8,245.5 304,241.6 305.1,238.3 306.7,231.6 308,229.9 309.7,226.6 311.3,218.8 312.4,217.7 313.5,222.1 315.2,223.3 316.9,220.5 318.5,217.7 320.2,207.8 321.3,207.2 322.4,212.2 324.1,212.2 325.2,215.5 326.8,211.6 327.9,214.4 329,214.54 330.1,212 331.4,225.1 333.5,229.2 334.8,232.7 336.2,234.1 337.6,236.9 339,241 340.4,243.1 341.8,246.6 343.2,250.7 344.3,252.6 345.8,255.7 347.3,261 348.8,264.8 350.4,270.1 351.9,274.7 353.4,280.8 354.9,286.1 356.5,290.7 358.7,292.2 360.25,292.28 361.8,293.7 363.3,295.19 364.8,295.2 366.03,295.3 367.27,297.31 368.5,297.3 369.63,297.83 370.77,299.12 371.9,299.4 373.07,299.65 374.23,301.77 375.4,302.2 376.8,302.57 378.2,304.2 379.33,305.32 380.47,305.69 381.6,307 383,307.95 384.4,308 385.8,309.1 387.17,310.63 388.53,311.24 389.9,312.5 391.3,313.88 392.7,314.6 394.1,316 395.47,317.89 396.83,318.39 398.2,320.2 399.37,321.49 400.53,322.08 401.7,323.6 403.1,325.48 404.5,327.1 405.5,328" fill="none" stroke="#0a0a0a" stroke-width="1.7" stroke-linejoin="round" />
<polyline points="364,328 365,327.1 366.17,326.16 367.33,325.91 368.5,325 369.63,324.4 370.77,324.47 371.9,323.6 373.3,322.51 374.7,321.6 376.1,318.8 377.5,318.76 378.9,318.1 380.25,316.57 381.6,316 383,315.1 384.4,313.9 386.5,313.2 388.5,313.9 389.9,313.19 391.3,313.2 392.47,312.93 393.63,311.73 394.8,311.2 395.93,310.57 397.07,308.87 398.2,308.4 400,305.2 401.4,303.88 402.8,301.8 403.93,299.98 405.07,299.5 406.2,298 408.3,301.1 410.4,304.6 411.1,310.8 412.5,301.1 413.9,304.6 415.9,303.9 417,310.8 418.4,306.6 420.1,305.2 421.5,301.83 422.9,299 424.25,297.81 425.6,296.2 427.4,300.4 428.6,309.2 430.1,299.8 432.2,295.6 433.55,294.08 434.9,293.5 437,291.5 439.1,291.5 440.5,290.53 441.9,288 443.2,285.2 444.6,292.2 446.7,283.9 448.1,279.7 449.5,285.2 450.9,293.5 452.9,295.6 455,294.9 456.4,288 457.8,292.2 459.2,301.9 460.8,304.9 462.05,306.12 463.3,308.2 464.55,309.95 465.8,310.7 467.05,312.51 468.3,314.9 469.5,316.97 470.7,318.2 471.95,319.31 473.2,320.7 474.33,321.61 475.47,321.75 476.6,322.8 477.83,323.66 479.05,323.56 480.27,324.42 481.5,324.8 482.75,325.05 484,325.81 485.25,325.89 486.5,326.5 487.9,327.42 489.3,327.49 490.7,328.2" fill="none" stroke="#0a0a0a" stroke-width="1.7" stroke-linejoin="round" />
<polyline points="295.2,256 296.2,281 296.9,258 297.6,270 298.3,254" fill="none" stroke="#333" stroke-width="1.0" stroke-linejoin="round" />
</svg>
</body></html>
